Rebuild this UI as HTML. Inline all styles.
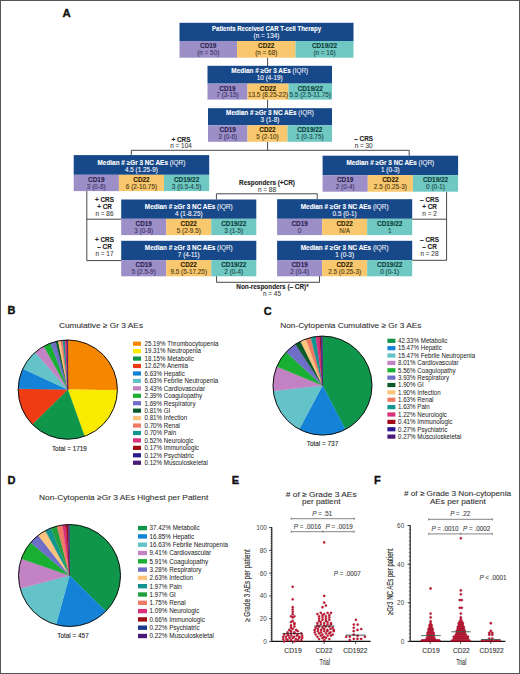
<!DOCTYPE html>
<html><head><meta charset="utf-8"><style>
html,body{margin:0;padding:0;background:#fff;}
body{width:520px;height:674px;overflow:hidden;font-family:"Liberation Sans", sans-serif;}
svg{display:block;}
</style></head><body>
<svg width="520" height="674" viewBox="0 0 520 674" font-family='"Liberation Sans", sans-serif'><rect x="0" y="0" width="520" height="674" fill="#ffffff" /><text x="62.6" y="16.7" font-size="11.4" text-anchor="start" font-weight="bold" fill="#111" stroke="#111" stroke-width="0.35" >A</text><line x1="267.6" y1="57.5" x2="267.6" y2="66" stroke="#333" stroke-width="0.9"/><line x1="267.6" y1="99.5" x2="267.6" y2="108.3" stroke="#333" stroke-width="0.9"/><line x1="267.6" y1="141.7" x2="267.6" y2="150.3" stroke="#333" stroke-width="0.9"/><polyline points="131.3,155.2 131.3,150.3 409.2,150.3 409.2,155.8" fill="none" stroke="#333" stroke-width="0.9"/><polyline points="86.8,191 86.8,260.6 121.3,260.6" fill="none" stroke="#333" stroke-width="0.9"/><line x1="86.8" y1="219.2" x2="121.3" y2="219.2" stroke="#333" stroke-width="0.9"/><polyline points="446.6,191.6 446.6,260.3 412.2,260.3" fill="none" stroke="#333" stroke-width="0.9"/><line x1="446.6" y1="219.2" x2="412.2" y2="219.2" stroke="#333" stroke-width="0.9"/><polyline points="216.4,199.5 216.4,193.8 317.2,193.8 317.2,199.3" fill="none" stroke="#333" stroke-width="0.9"/><polyline points="216.6,276 216.6,282.3 319.5,282.3 319.5,276" fill="none" stroke="#333" stroke-width="0.9"/><rect x="179.5" y="22.8" width="174" height="18.2" fill="#17488a" /><rect x="179.5" y="41" width="57.52" height="16.700000000000003" fill="#9c8fc8" /><rect x="237" y="41" width="58.52" height="16.700000000000003" fill="#f9c86e" /><rect x="295.5" y="41" width="58.0" height="16.700000000000003" fill="#6fc8c2" /><text x="266.5" y="30.7" font-size="6.4" text-anchor="middle" font-weight="normal" fill="#ffffff" stroke="#ffffff" stroke-width="0.1" textLength="109" lengthAdjust="spacingAndGlyphs"><tspan font-weight="bold">Patients Received CAR T-cell Therapy</tspan></text><text x="266.5" y="37.8" font-size="6.4" text-anchor="middle" font-weight="normal" fill="#f4f6fb" stroke="#f4f6fb" stroke-width="0.1" >(n = 134)</text><text x="208.25" y="48.0" font-size="6.4" text-anchor="middle" font-weight="bold" fill="#2a1f4f" stroke="#2a1f4f" stroke-width="0.1" >CD19</text><text x="208.25" y="54.8" font-size="6.4" text-anchor="middle" font-weight="normal" fill="#3d3468" stroke="#3d3468" stroke-width="0.1" >(n = 50)</text><text x="266.25" y="48.0" font-size="6.4" text-anchor="middle" font-weight="bold" fill="#2e2200" stroke="#2e2200" stroke-width="0.1" >CD22</text><text x="266.25" y="54.8" font-size="6.4" text-anchor="middle" font-weight="normal" fill="#4d3a12" stroke="#4d3a12" stroke-width="0.1" >(n = 68)</text><text x="324.5" y="48.0" font-size="6.4" text-anchor="middle" font-weight="bold" fill="#0d3a3a" stroke="#0d3a3a" stroke-width="0.1" >CD19/22</text><text x="324.5" y="54.8" font-size="6.4" text-anchor="middle" font-weight="normal" fill="#1d4848" stroke="#1d4848" stroke-width="0.1" >(n = 16)</text><rect x="207.5" y="65.8" width="124.5" height="17.799999999999997" fill="#17488a" /><rect x="207.5" y="83.6" width="40.02" height="16.0" fill="#9c8fc8" /><rect x="247.5" y="83.6" width="41.02" height="16.0" fill="#f9c86e" /><rect x="288.5" y="83.6" width="43.5" height="16.0" fill="#6fc8c2" /><text x="269.75" y="73.3" font-size="6.4" text-anchor="middle" font-weight="normal" fill="#ffffff" stroke="#ffffff" stroke-width="0.1" ><tspan font-weight="bold">Median # ≥Gr 3 AEs</tspan><tspan fill="#e4e8f2"> (IQR)</tspan></text><text x="269.75" y="80.39999999999999" font-size="6.4" text-anchor="middle" font-weight="normal" fill="#f4f6fb" stroke="#f4f6fb" stroke-width="0.1" >10 (4-19)</text><text x="227.5" y="90.6" font-size="6.4" text-anchor="middle" font-weight="bold" fill="#2a1f4f" stroke="#2a1f4f" stroke-width="0.1" >CD19</text><text x="227.5" y="97.39999999999999" font-size="6.4" text-anchor="middle" font-weight="normal" fill="#3d3468" stroke="#3d3468" stroke-width="0.1" >7 (3-15)</text><text x="268.0" y="90.6" font-size="6.4" text-anchor="middle" font-weight="bold" fill="#2e2200" stroke="#2e2200" stroke-width="0.1" >CD22</text><text x="268.0" y="97.39999999999999" font-size="6.4" text-anchor="middle" font-weight="normal" fill="#4d3a12" stroke="#4d3a12" stroke-width="0.1" >13.5 (8.25-22)</text><text x="310.25" y="90.6" font-size="6.4" text-anchor="middle" font-weight="bold" fill="#0d3a3a" stroke="#0d3a3a" stroke-width="0.1" >CD19/22</text><text x="310.25" y="97.39999999999999" font-size="6.4" text-anchor="middle" font-weight="normal" fill="#1d4848" stroke="#1d4848" stroke-width="0.1" >5.5 (2.5-11.75)</text><rect x="208" y="108.2" width="124" height="17.099999999999994" fill="#17488a" /><rect x="208" y="125.3" width="39.52" height="16.500000000000014" fill="#9c8fc8" /><rect x="247.5" y="125.3" width="40.02" height="16.500000000000014" fill="#f9c86e" /><rect x="287.5" y="125.3" width="44.5" height="16.500000000000014" fill="#6fc8c2" /><text x="270.0" y="115.0" font-size="6.4" text-anchor="middle" font-weight="normal" fill="#ffffff" stroke="#ffffff" stroke-width="0.1" ><tspan font-weight="bold">Median # ≥Gr 3 NC AEs</tspan><tspan fill="#e4e8f2"> (IQR)</tspan></text><text x="270.0" y="122.1" font-size="6.4" text-anchor="middle" font-weight="normal" fill="#f4f6fb" stroke="#f4f6fb" stroke-width="0.1" >3 (1-8)</text><text x="227.75" y="132.3" font-size="6.4" text-anchor="middle" font-weight="bold" fill="#2a1f4f" stroke="#2a1f4f" stroke-width="0.1" >CD19</text><text x="227.75" y="139.1" font-size="6.4" text-anchor="middle" font-weight="normal" fill="#3d3468" stroke="#3d3468" stroke-width="0.1" >3 (0-6)</text><text x="267.5" y="132.3" font-size="6.4" text-anchor="middle" font-weight="bold" fill="#2e2200" stroke="#2e2200" stroke-width="0.1" >CD22</text><text x="267.5" y="139.1" font-size="6.4" text-anchor="middle" font-weight="normal" fill="#4d3a12" stroke="#4d3a12" stroke-width="0.1" >5 (2-10)</text><text x="309.75" y="132.3" font-size="6.4" text-anchor="middle" font-weight="bold" fill="#0d3a3a" stroke="#0d3a3a" stroke-width="0.1" >CD19/22</text><text x="309.75" y="139.1" font-size="6.4" text-anchor="middle" font-weight="normal" fill="#1d4848" stroke="#1d4848" stroke-width="0.1" >1 (0-3.75)</text><rect x="73.7" y="155.1" width="135.5" height="19.700000000000017" fill="#17488a" /><rect x="73.7" y="174.8" width="45.186666666666675" height="16.299999999999983" fill="#9c8fc8" /><rect x="118.86666666666667" y="174.8" width="45.18666666666666" height="16.299999999999983" fill="#f9c86e" /><rect x="164.03333333333333" y="174.8" width="45.16666666666666" height="16.299999999999983" fill="#6fc8c2" /><text x="141.45" y="164.5" font-size="6.4" text-anchor="middle" font-weight="normal" fill="#ffffff" stroke="#ffffff" stroke-width="0.1" ><tspan font-weight="bold">Median # ≥Gr 3 NC AEs</tspan><tspan fill="#e4e8f2"> (IQR)</tspan></text><text x="141.45" y="171.60000000000002" font-size="6.4" text-anchor="middle" font-weight="normal" fill="#f4f6fb" stroke="#f4f6fb" stroke-width="0.1" >4.5 (1.25-9)</text><text x="96.28333333333333" y="181.8" font-size="6.4" text-anchor="middle" font-weight="bold" fill="#2a1f4f" stroke="#2a1f4f" stroke-width="0.1" >CD19</text><text x="96.28333333333333" y="188.60000000000002" font-size="6.4" text-anchor="middle" font-weight="normal" fill="#3d3468" stroke="#3d3468" stroke-width="0.1" >3 (0-8)</text><text x="141.45" y="181.8" font-size="6.4" text-anchor="middle" font-weight="bold" fill="#2e2200" stroke="#2e2200" stroke-width="0.1" >CD22</text><text x="141.45" y="188.60000000000002" font-size="6.4" text-anchor="middle" font-weight="normal" fill="#4d3a12" stroke="#4d3a12" stroke-width="0.1" >6 (2-10.75)</text><text x="186.61666666666667" y="181.8" font-size="6.4" text-anchor="middle" font-weight="bold" fill="#0d3a3a" stroke="#0d3a3a" stroke-width="0.1" >CD19/22</text><text x="186.61666666666667" y="188.60000000000002" font-size="6.4" text-anchor="middle" font-weight="normal" fill="#1d4848" stroke="#1d4848" stroke-width="0.1" >3 (0.5-4.5)</text><rect x="322.6" y="155.7" width="135.5" height="19.5" fill="#17488a" /><rect x="322.6" y="175.2" width="45.18666666666669" height="16.5" fill="#9c8fc8" /><rect x="367.7666666666667" y="175.2" width="45.18666666666663" height="16.5" fill="#f9c86e" /><rect x="412.93333333333334" y="175.2" width="45.166666666666686" height="16.5" fill="#6fc8c2" /><text x="390.35" y="164.89999999999998" font-size="6.4" text-anchor="middle" font-weight="normal" fill="#ffffff" stroke="#ffffff" stroke-width="0.1" ><tspan font-weight="bold">Median # ≥Gr 3 NC AEs</tspan><tspan fill="#e4e8f2"> (IQR)</tspan></text><text x="390.35" y="172.0" font-size="6.4" text-anchor="middle" font-weight="normal" fill="#f4f6fb" stroke="#f4f6fb" stroke-width="0.1" >1 (0-3)</text><text x="345.1833333333334" y="182.2" font-size="6.4" text-anchor="middle" font-weight="bold" fill="#2a1f4f" stroke="#2a1f4f" stroke-width="0.1" >CD19</text><text x="345.1833333333334" y="189.0" font-size="6.4" text-anchor="middle" font-weight="normal" fill="#3d3468" stroke="#3d3468" stroke-width="0.1" >2 (0-4)</text><text x="390.35" y="182.2" font-size="6.4" text-anchor="middle" font-weight="bold" fill="#2e2200" stroke="#2e2200" stroke-width="0.1" >CD22</text><text x="390.35" y="189.0" font-size="6.4" text-anchor="middle" font-weight="normal" fill="#4d3a12" stroke="#4d3a12" stroke-width="0.1" >2.5 (0.25-3)</text><text x="435.51666666666665" y="182.2" font-size="6.4" text-anchor="middle" font-weight="bold" fill="#0d3a3a" stroke="#0d3a3a" stroke-width="0.1" >CD19/22</text><text x="435.51666666666665" y="189.0" font-size="6.4" text-anchor="middle" font-weight="normal" fill="#1d4848" stroke="#1d4848" stroke-width="0.1" >0 (0-1)</text><rect x="121.2" y="199.5" width="135.1" height="19.30000000000001" fill="#17488a" /><rect x="121.2" y="218.8" width="45.05333333333335" height="16.299999999999983" fill="#9c8fc8" /><rect x="166.23333333333335" y="218.8" width="45.053333333333306" height="16.299999999999983" fill="#f9c86e" /><rect x="211.26666666666665" y="218.8" width="45.03333333333336" height="16.299999999999983" fill="#6fc8c2" /><text x="188.75" y="208.5" font-size="6.4" text-anchor="middle" font-weight="normal" fill="#ffffff" stroke="#ffffff" stroke-width="0.1" ><tspan font-weight="bold">Median # ≥Gr 3 NC AEs</tspan><tspan fill="#e4e8f2"> (IQR)</tspan></text><text x="188.75" y="215.60000000000002" font-size="6.4" text-anchor="middle" font-weight="normal" fill="#f4f6fb" stroke="#f4f6fb" stroke-width="0.1" >4 (1-8.25)</text><text x="143.71666666666667" y="225.8" font-size="6.4" text-anchor="middle" font-weight="bold" fill="#2a1f4f" stroke="#2a1f4f" stroke-width="0.1" >CD19</text><text x="143.71666666666667" y="232.60000000000002" font-size="6.4" text-anchor="middle" font-weight="normal" fill="#3d3468" stroke="#3d3468" stroke-width="0.1" >3 (0-8)</text><text x="188.75" y="225.8" font-size="6.4" text-anchor="middle" font-weight="bold" fill="#2e2200" stroke="#2e2200" stroke-width="0.1" >CD22</text><text x="188.75" y="232.60000000000002" font-size="6.4" text-anchor="middle" font-weight="normal" fill="#4d3a12" stroke="#4d3a12" stroke-width="0.1" >5 (2-9.5)</text><text x="233.78333333333333" y="225.8" font-size="6.4" text-anchor="middle" font-weight="bold" fill="#0d3a3a" stroke="#0d3a3a" stroke-width="0.1" >CD19/22</text><text x="233.78333333333333" y="232.60000000000002" font-size="6.4" text-anchor="middle" font-weight="normal" fill="#1d4848" stroke="#1d4848" stroke-width="0.1" >3 (1-5)</text><rect x="277.1" y="199.2" width="135.1" height="19.600000000000023" fill="#17488a" /><rect x="277.1" y="218.8" width="45.053333333333306" height="16.299999999999983" fill="#9c8fc8" /><rect x="322.1333333333333" y="218.8" width="45.05333333333336" height="16.299999999999983" fill="#f9c86e" /><rect x="367.1666666666667" y="218.8" width="45.03333333333336" height="16.299999999999983" fill="#6fc8c2" /><text x="344.65000000000003" y="208.5" font-size="6.4" text-anchor="middle" font-weight="normal" fill="#ffffff" stroke="#ffffff" stroke-width="0.1" ><tspan font-weight="bold">Median # ≥Gr 3 NC AEs</tspan><tspan fill="#e4e8f2"> (IQR)</tspan></text><text x="344.65000000000003" y="215.60000000000002" font-size="6.4" text-anchor="middle" font-weight="normal" fill="#f4f6fb" stroke="#f4f6fb" stroke-width="0.1" >0.5 (0-1)</text><text x="299.6166666666667" y="225.8" font-size="6.4" text-anchor="middle" font-weight="bold" fill="#2a1f4f" stroke="#2a1f4f" stroke-width="0.1" >CD19</text><text x="299.6166666666667" y="232.60000000000002" font-size="6.4" text-anchor="middle" font-weight="normal" fill="#3d3468" stroke="#3d3468" stroke-width="0.1" >0</text><text x="344.65" y="225.8" font-size="6.4" text-anchor="middle" font-weight="bold" fill="#2e2200" stroke="#2e2200" stroke-width="0.1" >CD22</text><text x="344.65" y="232.60000000000002" font-size="6.4" text-anchor="middle" font-weight="normal" fill="#4d3a12" stroke="#4d3a12" stroke-width="0.1" >N/A</text><text x="389.6833333333334" y="225.8" font-size="6.4" text-anchor="middle" font-weight="bold" fill="#0d3a3a" stroke="#0d3a3a" stroke-width="0.1" >CD19/22</text><text x="389.6833333333334" y="232.60000000000002" font-size="6.4" text-anchor="middle" font-weight="normal" fill="#1d4848" stroke="#1d4848" stroke-width="0.1" >1</text><rect x="121.2" y="240.8" width="135.1" height="19.30000000000001" fill="#17488a" /><rect x="121.2" y="260.1" width="45.05333333333335" height="16.19999999999999" fill="#9c8fc8" /><rect x="166.23333333333335" y="260.1" width="45.053333333333306" height="16.19999999999999" fill="#f9c86e" /><rect x="211.26666666666665" y="260.1" width="45.03333333333336" height="16.19999999999999" fill="#6fc8c2" /><text x="188.75" y="249.8" font-size="6.4" text-anchor="middle" font-weight="normal" fill="#ffffff" stroke="#ffffff" stroke-width="0.1" ><tspan font-weight="bold">Median # ≥Gr 3 NC AEs</tspan><tspan fill="#e4e8f2"> (IQR)</tspan></text><text x="188.75" y="256.90000000000003" font-size="6.4" text-anchor="middle" font-weight="normal" fill="#f4f6fb" stroke="#f4f6fb" stroke-width="0.1" >7 (4-11)</text><text x="143.71666666666667" y="267.1" font-size="6.4" text-anchor="middle" font-weight="bold" fill="#2a1f4f" stroke="#2a1f4f" stroke-width="0.1" >CD19</text><text x="143.71666666666667" y="273.90000000000003" font-size="6.4" text-anchor="middle" font-weight="normal" fill="#3d3468" stroke="#3d3468" stroke-width="0.1" >5 (2.5-9)</text><text x="188.75" y="267.1" font-size="6.4" text-anchor="middle" font-weight="bold" fill="#2e2200" stroke="#2e2200" stroke-width="0.1" >CD22</text><text x="188.75" y="273.90000000000003" font-size="6.4" text-anchor="middle" font-weight="normal" fill="#4d3a12" stroke="#4d3a12" stroke-width="0.1" >9.5 (5-17.25)</text><text x="233.78333333333333" y="267.1" font-size="6.4" text-anchor="middle" font-weight="bold" fill="#0d3a3a" stroke="#0d3a3a" stroke-width="0.1" >CD19/22</text><text x="233.78333333333333" y="273.90000000000003" font-size="6.4" text-anchor="middle" font-weight="normal" fill="#1d4848" stroke="#1d4848" stroke-width="0.1" >2 (0-4)</text><rect x="277.1" y="240.8" width="135.1" height="19.30000000000001" fill="#17488a" /><rect x="277.1" y="260.1" width="45.053333333333306" height="16.19999999999999" fill="#9c8fc8" /><rect x="322.1333333333333" y="260.1" width="45.05333333333336" height="16.19999999999999" fill="#f9c86e" /><rect x="367.1666666666667" y="260.1" width="45.03333333333336" height="16.19999999999999" fill="#6fc8c2" /><text x="344.65000000000003" y="249.8" font-size="6.4" text-anchor="middle" font-weight="normal" fill="#ffffff" stroke="#ffffff" stroke-width="0.1" ><tspan font-weight="bold">Median # ≥Gr 3 NC AEs</tspan><tspan fill="#e4e8f2"> (IQR)</tspan></text><text x="344.65000000000003" y="256.90000000000003" font-size="6.4" text-anchor="middle" font-weight="normal" fill="#f4f6fb" stroke="#f4f6fb" stroke-width="0.1" >1 (0-3)</text><text x="299.6166666666667" y="267.1" font-size="6.4" text-anchor="middle" font-weight="bold" fill="#2a1f4f" stroke="#2a1f4f" stroke-width="0.1" >CD19</text><text x="299.6166666666667" y="273.90000000000003" font-size="6.4" text-anchor="middle" font-weight="normal" fill="#3d3468" stroke="#3d3468" stroke-width="0.1" >2 (0-4)</text><text x="344.65" y="267.1" font-size="6.4" text-anchor="middle" font-weight="bold" fill="#2e2200" stroke="#2e2200" stroke-width="0.1" >CD22</text><text x="344.65" y="273.90000000000003" font-size="6.4" text-anchor="middle" font-weight="normal" fill="#4d3a12" stroke="#4d3a12" stroke-width="0.1" >2.5 (0.25-3)</text><text x="389.6833333333334" y="267.1" font-size="6.4" text-anchor="middle" font-weight="bold" fill="#0d3a3a" stroke="#0d3a3a" stroke-width="0.1" >CD19/22</text><text x="389.6833333333334" y="273.90000000000003" font-size="6.4" text-anchor="middle" font-weight="normal" fill="#1d4848" stroke="#1d4848" stroke-width="0.1" >0 (0-1)</text><text x="181" y="141.8" font-size="6.4" text-anchor="middle" font-weight="bold" fill="#222" stroke="#222" stroke-width="0.1" >+ CRS</text><text x="181" y="148.4" font-size="6.4" text-anchor="middle" font-weight="normal" fill="#444" stroke="#444" stroke-width="0.1" >n = 104</text><text x="363.7" y="141.0" font-size="6.4" text-anchor="middle" font-weight="bold" fill="#222" stroke="#222" stroke-width="0.1" >– CRS</text><text x="363.7" y="147.9" font-size="6.4" text-anchor="middle" font-weight="normal" fill="#444" stroke="#444" stroke-width="0.1" >n = 30</text><text x="104.5" y="202.1" font-size="6.4" text-anchor="middle" font-weight="bold" fill="#222" stroke="#222" stroke-width="0.1" >+ CRS</text><text x="104.5" y="209.1" font-size="6.4" text-anchor="middle" font-weight="bold" fill="#222" stroke="#222" stroke-width="0.1" >+ CR</text><text x="104.5" y="216.0" font-size="6.4" text-anchor="middle" font-weight="normal" fill="#444" stroke="#444" stroke-width="0.1" >n = 86</text><text x="104.5" y="242.0" font-size="6.4" text-anchor="middle" font-weight="bold" fill="#222" stroke="#222" stroke-width="0.1" >+ CRS</text><text x="104.5" y="249.2" font-size="6.4" text-anchor="middle" font-weight="bold" fill="#222" stroke="#222" stroke-width="0.1" >– CR</text><text x="104.5" y="256.0" font-size="6.4" text-anchor="middle" font-weight="normal" fill="#444" stroke="#444" stroke-width="0.1" >n = 17</text><text x="429.5" y="202.2" font-size="6.4" text-anchor="middle" font-weight="bold" fill="#222" stroke="#222" stroke-width="0.1" >– CRS</text><text x="429.5" y="209.1" font-size="6.4" text-anchor="middle" font-weight="bold" fill="#222" stroke="#222" stroke-width="0.1" >+ CR</text><text x="429.5" y="216" font-size="6.4" text-anchor="middle" font-weight="normal" fill="#444" stroke="#444" stroke-width="0.1" >n = 2</text><text x="429.5" y="242" font-size="6.4" text-anchor="middle" font-weight="bold" fill="#222" stroke="#222" stroke-width="0.1" >– CRS</text><text x="429.5" y="248.9" font-size="6.4" text-anchor="middle" font-weight="bold" fill="#222" stroke="#222" stroke-width="0.1" >– CR</text><text x="429.5" y="255.8" font-size="6.4" text-anchor="middle" font-weight="normal" fill="#444" stroke="#444" stroke-width="0.1" >n = 28</text><text x="267" y="185.4" font-size="6.4" text-anchor="middle" font-weight="bold" fill="#222" stroke="#222" stroke-width="0.1" >Responders (+CR)</text><text x="267" y="191.8" font-size="6.4" text-anchor="middle" font-weight="normal" fill="#444" stroke="#444" stroke-width="0.1" >n = 88</text><text x="272.5" y="289.3" font-size="6.4" text-anchor="middle" font-weight="bold" fill="#222" stroke="#222" stroke-width="0.1" >Non-responders (– CR)*</text><text x="272" y="295.8" font-size="6.4" text-anchor="middle" font-weight="normal" fill="#444" stroke="#444" stroke-width="0.1" >n = 45</text><text x="7.6" y="314.1" font-size="11.0" text-anchor="start" font-weight="bold" fill="#111" stroke="#111" stroke-width="0.35" >B</text><text x="58.9" y="328.1" font-size="7.6" text-anchor="start" font-weight="normal" fill="#333" stroke="#333" stroke-width="0.1" textLength="84.2" lengthAdjust="spacingAndGlyphs">Cumulative ≥ Gr 3 AEs</text><path d="M67.80,389.60 L67.80,340.00 A49.6,49.6 0 0 1 117.40,390.20 Z" fill="#f58700" stroke="#f58700" stroke-width="0.25" stroke-linejoin="round"/><path d="M67.80,389.60 L117.40,390.20 A49.6,49.6 0 0 1 84.59,436.27 Z" fill="#faeb00" stroke="#faeb00" stroke-width="0.25" stroke-linejoin="round"/><path d="M67.80,389.60 L84.59,436.27 A49.6,49.6 0 0 1 32.38,424.33 Z" fill="#0f964b" stroke="#0f964b" stroke-width="0.25" stroke-linejoin="round"/><path d="M67.80,389.60 L32.38,424.33 A49.6,49.6 0 0 1 18.21,388.74 Z" fill="#f03c14" stroke="#f03c14" stroke-width="0.25" stroke-linejoin="round"/><path d="M67.80,389.60 L18.21,388.74 A49.6,49.6 0 0 1 22.80,368.74 Z" fill="#1482d7" stroke="#1482d7" stroke-width="0.25" stroke-linejoin="round"/><path d="M67.80,389.60 L22.80,368.74 A49.6,49.6 0 0 1 35.09,352.31 Z" fill="#64c3c8" stroke="#64c3c8" stroke-width="0.25" stroke-linejoin="round"/><path d="M67.80,389.60 L35.09,352.31 A49.6,49.6 0 0 1 43.82,346.18 Z" fill="#c382c3" stroke="#c382c3" stroke-width="0.25" stroke-linejoin="round"/><path d="M67.80,389.60 L43.82,346.18 A49.6,49.6 0 0 1 50.59,343.08 Z" fill="#19af32" stroke="#19af32" stroke-width="0.25" stroke-linejoin="round"/><path d="M67.80,389.60 L50.59,343.08 A49.6,49.6 0 0 1 55.61,341.52 Z" fill="#6e6ec8" stroke="#6e6ec8" stroke-width="0.25" stroke-linejoin="round"/><path d="M67.80,389.60 L55.61,341.52 A49.6,49.6 0 0 1 58.08,340.96 Z" fill="#0a5a2a" stroke="#0a5a2a" stroke-width="0.25" stroke-linejoin="round"/><path d="M67.80,389.60 L58.08,340.96 A49.6,49.6 0 0 1 60.56,340.53 Z" fill="#fcc47c" stroke="#fcc47c" stroke-width="0.25" stroke-linejoin="round"/><path d="M67.80,389.60 L60.56,340.53 A49.6,49.6 0 0 1 62.73,340.26 Z" fill="#ee7a64" stroke="#ee7a64" stroke-width="0.25" stroke-linejoin="round"/><path d="M67.80,389.60 L62.73,340.26 A49.6,49.6 0 0 1 64.90,340.08 Z" fill="#129490" stroke="#129490" stroke-width="0.25" stroke-linejoin="round"/><path d="M67.80,389.60 L64.90,340.08 A49.6,49.6 0 0 1 66.52,340.02 Z" fill="#d8307a" stroke="#d8307a" stroke-width="0.25" stroke-linejoin="round"/><path d="M67.80,389.60 L66.52,340.02 A49.6,49.6 0 0 1 67.05,340.01 Z" fill="#a00c14" stroke="#a00c14" stroke-width="0.25" stroke-linejoin="round"/><path d="M67.80,389.60 L67.05,340.01 A49.6,49.6 0 0 1 67.43,340.00 Z" fill="#2a1a90" stroke="#2a1a90" stroke-width="0.25" stroke-linejoin="round"/><path d="M67.80,389.60 L67.43,340.00 A49.6,49.6 0 0 1 67.80,340.00 Z" fill="#4a1a78" stroke="#4a1a78" stroke-width="0.25" stroke-linejoin="round"/><circle cx="67.8" cy="389.6" r="49.6" fill="none" stroke="#111" stroke-width="1.0"/><rect x="133" y="341.59999999999997" width="8" height="4.2" fill="#f58700" /><text x="144.5" y="346.0" font-size="6.696000000000001" text-anchor="start" font-weight="normal" fill="#262626" stroke="#262626" stroke-width="0.04" textLength="73.98" lengthAdjust="spacingAndGlyphs">25.19% Thrombocytopenia</text><rect x="133" y="349.03999999999996" width="8" height="4.2" fill="#faeb00" /><text x="144.5" y="353.44" font-size="6.696000000000001" text-anchor="start" font-weight="normal" fill="#262626" stroke="#262626" stroke-width="0.04" textLength="56.53" lengthAdjust="spacingAndGlyphs">19.31% Neutropenia</text><rect x="133" y="356.47999999999996" width="8" height="4.2" fill="#0f964b" /><text x="144.5" y="360.88" font-size="6.696000000000001" text-anchor="start" font-weight="normal" fill="#262626" stroke="#262626" stroke-width="0.04" textLength="49.28" lengthAdjust="spacingAndGlyphs">18.15% Metabolic</text><rect x="133" y="363.91999999999996" width="8" height="4.2" fill="#f03c14" /><text x="144.5" y="368.32" font-size="6.696000000000001" text-anchor="start" font-weight="normal" fill="#262626" stroke="#262626" stroke-width="0.04" textLength="43.43" lengthAdjust="spacingAndGlyphs">12.62% Anemia</text><rect x="133" y="371.35999999999996" width="8" height="4.2" fill="#1482d7" /><text x="144.5" y="375.76" font-size="6.696000000000001" text-anchor="start" font-weight="normal" fill="#262626" stroke="#262626" stroke-width="0.04" textLength="40.32" lengthAdjust="spacingAndGlyphs">6.63% Hepatic</text><rect x="133" y="378.79999999999995" width="8" height="4.2" fill="#64c3c8" /><text x="144.5" y="383.2" font-size="6.696000000000001" text-anchor="start" font-weight="normal" fill="#262626" stroke="#262626" stroke-width="0.04" textLength="73.75" lengthAdjust="spacingAndGlyphs">6.63% Febrile Neutropenia</text><rect x="133" y="386.23999999999995" width="8" height="4.2" fill="#c382c3" /><text x="144.5" y="390.64" font-size="6.696000000000001" text-anchor="start" font-weight="normal" fill="#262626" stroke="#262626" stroke-width="0.04" textLength="60.65" lengthAdjust="spacingAndGlyphs">3.43% Cardiovascular</text><rect x="133" y="393.67999999999995" width="8" height="4.2" fill="#19af32" /><text x="144.5" y="398.08" font-size="6.696000000000001" text-anchor="start" font-weight="normal" fill="#262626" stroke="#262626" stroke-width="0.04" textLength="57.56" lengthAdjust="spacingAndGlyphs">2.39% Coagulopathy</text><rect x="133" y="401.11999999999995" width="8" height="4.2" fill="#6e6ec8" /><text x="144.5" y="405.52" font-size="6.696000000000001" text-anchor="start" font-weight="normal" fill="#262626" stroke="#262626" stroke-width="0.04" textLength="51.00" lengthAdjust="spacingAndGlyphs">1.69% Respiratory</text><rect x="133" y="408.55999999999995" width="8" height="4.2" fill="#0a5a2a" /><text x="144.5" y="412.96" font-size="6.696000000000001" text-anchor="start" font-weight="normal" fill="#262626" stroke="#262626" stroke-width="0.04" textLength="25.85" lengthAdjust="spacingAndGlyphs">0.81% GI</text><rect x="133" y="416.0" width="8" height="4.2" fill="#fcc47c" /><text x="144.5" y="420.40000000000003" font-size="6.696000000000001" text-anchor="start" font-weight="normal" fill="#262626" stroke="#262626" stroke-width="0.04" textLength="42.74" lengthAdjust="spacingAndGlyphs">0.81% Infection</text><rect x="133" y="423.43999999999994" width="8" height="4.2" fill="#ee7a64" /><text x="144.5" y="427.84" font-size="6.696000000000001" text-anchor="start" font-weight="normal" fill="#262626" stroke="#262626" stroke-width="0.04" textLength="35.50" lengthAdjust="spacingAndGlyphs">0.70% Renal</text><rect x="133" y="430.88" width="8" height="4.2" fill="#129490" /><text x="144.5" y="435.28000000000003" font-size="6.696000000000001" text-anchor="start" font-weight="normal" fill="#262626" stroke="#262626" stroke-width="0.04" textLength="31.71" lengthAdjust="spacingAndGlyphs">0.70% Pain</text><rect x="133" y="438.31999999999994" width="8" height="4.2" fill="#d8307a" /><text x="144.5" y="442.71999999999997" font-size="6.696000000000001" text-anchor="start" font-weight="normal" fill="#262626" stroke="#262626" stroke-width="0.04" textLength="48.94" lengthAdjust="spacingAndGlyphs">0.52% Neurologic</text><rect x="133" y="445.76" width="8" height="4.2" fill="#a00c14" /><text x="144.5" y="450.16" font-size="6.696000000000001" text-anchor="start" font-weight="normal" fill="#262626" stroke="#262626" stroke-width="0.04" textLength="54.45" lengthAdjust="spacingAndGlyphs">0.17% Immunologic</text><rect x="133" y="453.2" width="8" height="4.2" fill="#2a1a90" /><text x="144.5" y="457.6" font-size="6.696000000000001" text-anchor="start" font-weight="normal" fill="#262626" stroke="#262626" stroke-width="0.04" textLength="49.27" lengthAdjust="spacingAndGlyphs">0.12% Psychiatric</text><rect x="133" y="460.64" width="8" height="4.2" fill="#4a1a78" /><text x="144.5" y="465.04" font-size="6.696000000000001" text-anchor="start" font-weight="normal" fill="#262626" stroke="#262626" stroke-width="0.04" textLength="63.41" lengthAdjust="spacingAndGlyphs">0.12% Musculoskeletal</text><text x="69.4" y="450.6" font-size="6.4" text-anchor="middle" font-weight="normal" fill="#222" stroke="#222" stroke-width="0.1" >Total = 1719</text><text x="263.8" y="315.2" font-size="11.0" text-anchor="start" font-weight="bold" fill="#111" stroke="#111" stroke-width="0.35" >C</text><text x="280.2" y="328.0" font-size="7.6" text-anchor="start" font-weight="normal" fill="#333" stroke="#333" stroke-width="0.1" textLength="141.3" lengthAdjust="spacingAndGlyphs">Non-Cytopenia Cumulative ≥ Gr 3 AEs</text><path d="M322.50,385.60 L322.50,336.10 A49.5,49.5 0 0 1 345.44,429.46 Z" fill="#0f964b" stroke="#0f964b" stroke-width="0.25" stroke-linejoin="round"/><path d="M322.50,385.60 L345.44,429.46 A49.5,49.5 0 0 1 299.20,429.27 Z" fill="#1482d7" stroke="#1482d7" stroke-width="0.25" stroke-linejoin="round"/><path d="M322.50,385.60 L299.20,429.27 A49.5,49.5 0 0 1 273.29,390.97 Z" fill="#64c3c8" stroke="#64c3c8" stroke-width="0.25" stroke-linejoin="round"/><path d="M322.50,385.60 L273.29,390.97 A49.5,49.5 0 0 1 276.80,366.57 Z" fill="#c382c3" stroke="#c382c3" stroke-width="0.25" stroke-linejoin="round"/><path d="M322.50,385.60 L276.80,366.57 A49.5,49.5 0 0 1 286.08,352.08 Z" fill="#19af32" stroke="#19af32" stroke-width="0.25" stroke-linejoin="round"/><path d="M322.50,385.60 L286.08,352.08 A49.5,49.5 0 0 1 295.38,344.19 Z" fill="#6e6ec8" stroke="#6e6ec8" stroke-width="0.25" stroke-linejoin="round"/><path d="M322.50,385.60 L295.38,344.19 A49.5,49.5 0 0 1 300.50,341.26 Z" fill="#0a5a2a" stroke="#0a5a2a" stroke-width="0.25" stroke-linejoin="round"/><path d="M322.50,385.60 L300.50,341.26 A49.5,49.5 0 0 1 305.94,338.95 Z" fill="#fcc47c" stroke="#fcc47c" stroke-width="0.25" stroke-linejoin="round"/><path d="M322.50,385.60 L305.94,338.95 A49.5,49.5 0 0 1 310.79,337.50 Z" fill="#ee7a64" stroke="#ee7a64" stroke-width="0.25" stroke-linejoin="round"/><path d="M322.50,385.60 L310.79,337.50 A49.5,49.5 0 0 1 315.77,336.56 Z" fill="#129490" stroke="#129490" stroke-width="0.25" stroke-linejoin="round"/><path d="M322.50,385.60 L315.77,336.56 A49.5,49.5 0 0 1 319.55,336.19 Z" fill="#d8307a" stroke="#d8307a" stroke-width="0.25" stroke-linejoin="round"/><path d="M322.50,385.60 L319.55,336.19 A49.5,49.5 0 0 1 320.82,336.13 Z" fill="#a00c14" stroke="#a00c14" stroke-width="0.25" stroke-linejoin="round"/><path d="M322.50,385.60 L320.82,336.13 A49.5,49.5 0 0 1 321.66,336.11 Z" fill="#2a1a90" stroke="#2a1a90" stroke-width="0.25" stroke-linejoin="round"/><path d="M322.50,385.60 L321.66,336.11 A49.5,49.5 0 0 1 322.50,336.10 Z" fill="#4a1a78" stroke="#4a1a78" stroke-width="0.25" stroke-linejoin="round"/><circle cx="322.5" cy="385.6" r="49.5" fill="none" stroke="#111" stroke-width="1.0"/><rect x="387.4" y="338.7" width="8" height="4.2" fill="#0f964b" /><text x="398" y="343.1" font-size="6.696000000000001" text-anchor="start" font-weight="normal" fill="#262626" stroke="#262626" stroke-width="0.04" textLength="49.28" lengthAdjust="spacingAndGlyphs">42.33% Metabolic</text><rect x="387.4" y="346.07" width="8" height="4.2" fill="#1482d7" /><text x="398" y="350.47" font-size="6.696000000000001" text-anchor="start" font-weight="normal" fill="#262626" stroke="#262626" stroke-width="0.04" textLength="43.77" lengthAdjust="spacingAndGlyphs">15.47% Hepatic</text><rect x="387.4" y="353.44" width="8" height="4.2" fill="#64c3c8" /><text x="398" y="357.84000000000003" font-size="6.696000000000001" text-anchor="start" font-weight="normal" fill="#262626" stroke="#262626" stroke-width="0.04" textLength="77.20" lengthAdjust="spacingAndGlyphs">15.47% Febrile Neutropenia</text><rect x="387.4" y="360.81" width="8" height="4.2" fill="#c382c3" /><text x="398" y="365.21000000000004" font-size="6.696000000000001" text-anchor="start" font-weight="normal" fill="#262626" stroke="#262626" stroke-width="0.04" textLength="60.65" lengthAdjust="spacingAndGlyphs">8.01% Cardiovascular</text><rect x="387.4" y="368.18" width="8" height="4.2" fill="#19af32" /><text x="398" y="372.58000000000004" font-size="6.696000000000001" text-anchor="start" font-weight="normal" fill="#262626" stroke="#262626" stroke-width="0.04" textLength="57.56" lengthAdjust="spacingAndGlyphs">5.56% Coagulopathy</text><rect x="387.4" y="375.55" width="8" height="4.2" fill="#6e6ec8" /><text x="398" y="379.95000000000005" font-size="6.696000000000001" text-anchor="start" font-weight="normal" fill="#262626" stroke="#262626" stroke-width="0.04" textLength="51.00" lengthAdjust="spacingAndGlyphs">3.93% Respiratory</text><rect x="387.4" y="382.91999999999996" width="8" height="4.2" fill="#0a5a2a" /><text x="398" y="387.32" font-size="6.696000000000001" text-anchor="start" font-weight="normal" fill="#262626" stroke="#262626" stroke-width="0.04" textLength="25.85" lengthAdjust="spacingAndGlyphs">1.90% GI</text><rect x="387.4" y="390.28999999999996" width="8" height="4.2" fill="#fcc47c" /><text x="398" y="394.69" font-size="6.696000000000001" text-anchor="start" font-weight="normal" fill="#262626" stroke="#262626" stroke-width="0.04" textLength="42.74" lengthAdjust="spacingAndGlyphs">1.90% Infection</text><rect x="387.4" y="397.65999999999997" width="8" height="4.2" fill="#ee7a64" /><text x="398" y="402.06" font-size="6.696000000000001" text-anchor="start" font-weight="normal" fill="#262626" stroke="#262626" stroke-width="0.04" textLength="35.50" lengthAdjust="spacingAndGlyphs">1.63% Renal</text><rect x="387.4" y="405.03" width="8" height="4.2" fill="#129490" /><text x="398" y="409.43" font-size="6.696000000000001" text-anchor="start" font-weight="normal" fill="#262626" stroke="#262626" stroke-width="0.04" textLength="31.71" lengthAdjust="spacingAndGlyphs">1.63% Pain</text><rect x="387.4" y="412.4" width="8" height="4.2" fill="#d8307a" /><text x="398" y="416.8" font-size="6.696000000000001" text-anchor="start" font-weight="normal" fill="#262626" stroke="#262626" stroke-width="0.04" textLength="48.94" lengthAdjust="spacingAndGlyphs">1.22% Neurologic</text><rect x="387.4" y="419.77" width="8" height="4.2" fill="#a00c14" /><text x="398" y="424.17" font-size="6.696000000000001" text-anchor="start" font-weight="normal" fill="#262626" stroke="#262626" stroke-width="0.04" textLength="54.45" lengthAdjust="spacingAndGlyphs">0.41% Immunologic</text><rect x="387.4" y="427.14" width="8" height="4.2" fill="#2a1a90" /><text x="398" y="431.54" font-size="6.696000000000001" text-anchor="start" font-weight="normal" fill="#262626" stroke="#262626" stroke-width="0.04" textLength="49.27" lengthAdjust="spacingAndGlyphs">0.27% Psychiatric</text><rect x="387.4" y="434.51" width="8" height="4.2" fill="#4a1a78" /><text x="398" y="438.91" font-size="6.696000000000001" text-anchor="start" font-weight="normal" fill="#262626" stroke="#262626" stroke-width="0.04" textLength="63.41" lengthAdjust="spacingAndGlyphs">0.27% Musculoskeletal</text><text x="322.5" y="446.1" font-size="6.4" text-anchor="middle" font-weight="normal" fill="#222" stroke="#222" stroke-width="0.1" >Total = 737</text><text x="7.6" y="484" font-size="11.0" text-anchor="start" font-weight="bold" fill="#111" stroke="#111" stroke-width="0.35" >D</text><text x="39.1" y="500.3" font-size="7.6" text-anchor="start" font-weight="normal" fill="#333" stroke="#333" stroke-width="0.1" textLength="169.2" lengthAdjust="spacingAndGlyphs">Non-Cytopenia ≥Gr 3 AEs Highest per Patient</text><path d="M69.50,575.50 L69.50,524.50 A51,51 0 0 1 105.75,611.37 Z" fill="#0f964b" stroke="#0f964b" stroke-width="0.25" stroke-linejoin="round"/><path d="M69.50,575.50 L105.75,611.37 A51,51 0 0 1 56.00,624.68 Z" fill="#1482d7" stroke="#1482d7" stroke-width="0.25" stroke-linejoin="round"/><path d="M69.50,575.50 L56.00,624.68 A51,51 0 0 1 20.19,588.52 Z" fill="#64c3c8" stroke="#64c3c8" stroke-width="0.25" stroke-linejoin="round"/><path d="M69.50,575.50 L20.19,588.52 A51,51 0 0 1 21.30,558.82 Z" fill="#c382c3" stroke="#c382c3" stroke-width="0.25" stroke-linejoin="round"/><path d="M69.50,575.50 L21.30,558.82 A51,51 0 0 1 30.64,542.47 Z" fill="#19af32" stroke="#19af32" stroke-width="0.25" stroke-linejoin="round"/><path d="M69.50,575.50 L30.64,542.47 A51,51 0 0 1 38.22,535.22 Z" fill="#6e6ec8" stroke="#6e6ec8" stroke-width="0.25" stroke-linejoin="round"/><path d="M69.50,575.50 L38.22,535.22 A51,51 0 0 1 45.27,530.62 Z" fill="#fcc47c" stroke="#fcc47c" stroke-width="0.25" stroke-linejoin="round"/><path d="M69.50,575.50 L45.27,530.62 A51,51 0 0 1 51.00,527.98 Z" fill="#129490" stroke="#129490" stroke-width="0.25" stroke-linejoin="round"/><path d="M69.50,575.50 L51.00,527.98 A51,51 0 0 1 57.00,526.05 Z" fill="#22a03e" stroke="#22a03e" stroke-width="0.25" stroke-linejoin="round"/><path d="M69.50,575.50 L57.00,526.05 A51,51 0 0 1 62.51,524.98 Z" fill="#ee7a64" stroke="#ee7a64" stroke-width="0.25" stroke-linejoin="round"/><path d="M69.50,575.50 L62.51,524.98 A51,51 0 0 1 65.98,524.62 Z" fill="#d8307a" stroke="#d8307a" stroke-width="0.25" stroke-linejoin="round"/><path d="M69.50,575.50 L65.98,524.62 A51,51 0 0 1 68.09,524.52 Z" fill="#a00c14" stroke="#a00c14" stroke-width="0.25" stroke-linejoin="round"/><path d="M69.50,575.50 L68.09,524.52 A51,51 0 0 1 68.80,524.50 Z" fill="#1c3a8c" stroke="#1c3a8c" stroke-width="0.25" stroke-linejoin="round"/><path d="M69.50,575.50 L68.80,524.50 A51,51 0 0 1 69.50,524.50 Z" fill="#4a1a78" stroke="#4a1a78" stroke-width="0.25" stroke-linejoin="round"/><circle cx="69.5" cy="575.5" r="51" fill="none" stroke="#111" stroke-width="1.0"/><rect x="138" y="525.9" width="9" height="4.4" fill="#0f964b" /><text x="149.6" y="530.4" font-size="6.804" text-anchor="start" font-weight="normal" fill="#262626" stroke="#262626" stroke-width="0.04" textLength="50.08" lengthAdjust="spacingAndGlyphs">37.42% Metabolic</text><rect x="138" y="534.1999999999999" width="9" height="4.4" fill="#1482d7" /><text x="149.6" y="538.6999999999999" font-size="6.804" text-anchor="start" font-weight="normal" fill="#262626" stroke="#262626" stroke-width="0.04" textLength="44.48" lengthAdjust="spacingAndGlyphs">16.85% Hepatic</text><rect x="138" y="542.5" width="9" height="4.4" fill="#64c3c8" /><text x="149.6" y="547.0" font-size="6.804" text-anchor="start" font-weight="normal" fill="#262626" stroke="#262626" stroke-width="0.04" textLength="78.44" lengthAdjust="spacingAndGlyphs">16.63% Febrile Neutropenia</text><rect x="138" y="550.8" width="9" height="4.4" fill="#c382c3" /><text x="149.6" y="555.3" font-size="6.804" text-anchor="start" font-weight="normal" fill="#262626" stroke="#262626" stroke-width="0.04" textLength="61.63" lengthAdjust="spacingAndGlyphs">9.41% Cardiovascular</text><rect x="138" y="559.1" width="9" height="4.4" fill="#19af32" /><text x="149.6" y="563.6" font-size="6.804" text-anchor="start" font-weight="normal" fill="#262626" stroke="#262626" stroke-width="0.04" textLength="58.49" lengthAdjust="spacingAndGlyphs">5.91% Coagulopathy</text><rect x="138" y="567.4" width="9" height="4.4" fill="#6e6ec8" /><text x="149.6" y="571.9" font-size="6.804" text-anchor="start" font-weight="normal" fill="#262626" stroke="#262626" stroke-width="0.04" textLength="51.82" lengthAdjust="spacingAndGlyphs">3.28% Respiratory</text><rect x="138" y="575.6999999999999" width="9" height="4.4" fill="#fcc47c" /><text x="149.6" y="580.1999999999999" font-size="6.804" text-anchor="start" font-weight="normal" fill="#262626" stroke="#262626" stroke-width="0.04" textLength="43.43" lengthAdjust="spacingAndGlyphs">2.63% Infection</text><rect x="138" y="584.0" width="9" height="4.4" fill="#129490" /><text x="149.6" y="588.5" font-size="6.804" text-anchor="start" font-weight="normal" fill="#262626" stroke="#262626" stroke-width="0.04" textLength="32.22" lengthAdjust="spacingAndGlyphs">1.97% Pain</text><rect x="138" y="592.3" width="9" height="4.4" fill="#22a03e" /><text x="149.6" y="596.8" font-size="6.804" text-anchor="start" font-weight="normal" fill="#262626" stroke="#262626" stroke-width="0.04" textLength="26.26" lengthAdjust="spacingAndGlyphs">1.97% GI</text><rect x="138" y="600.6" width="9" height="4.4" fill="#ee7a64" /><text x="149.6" y="605.1" font-size="6.804" text-anchor="start" font-weight="normal" fill="#262626" stroke="#262626" stroke-width="0.04" textLength="36.07" lengthAdjust="spacingAndGlyphs">1.75% Renal</text><rect x="138" y="608.9" width="9" height="4.4" fill="#d8307a" /><text x="149.6" y="613.4" font-size="6.804" text-anchor="start" font-weight="normal" fill="#262626" stroke="#262626" stroke-width="0.04" textLength="49.73" lengthAdjust="spacingAndGlyphs">1.09% Neurologic</text><rect x="138" y="617.2" width="9" height="4.4" fill="#a00c14" /><text x="149.6" y="621.7" font-size="6.804" text-anchor="start" font-weight="normal" fill="#262626" stroke="#262626" stroke-width="0.04" textLength="55.32" lengthAdjust="spacingAndGlyphs">0.66% Immunologic</text><rect x="138" y="625.5" width="9" height="4.4" fill="#1c3a8c" /><text x="149.6" y="630.0" font-size="6.804" text-anchor="start" font-weight="normal" fill="#262626" stroke="#262626" stroke-width="0.04" textLength="50.07" lengthAdjust="spacingAndGlyphs">0.22% Psychiatric</text><rect x="138" y="633.8" width="9" height="4.4" fill="#4a1a78" /><text x="149.6" y="638.3" font-size="6.804" text-anchor="start" font-weight="normal" fill="#262626" stroke="#262626" stroke-width="0.04" textLength="64.43" lengthAdjust="spacingAndGlyphs">0.22% Musculoskeletal</text><text x="73" y="638.4" font-size="6.4" text-anchor="middle" font-weight="normal" fill="#222" stroke="#222" stroke-width="0.1" >Total = 457</text><text x="231.7" y="483.6" font-size="11.0" text-anchor="start" font-weight="bold" fill="#111" stroke="#111" stroke-width="0.35" >E</text><text x="321.2" y="496.6" font-size="7.3" text-anchor="middle" font-weight="normal" fill="#333" stroke="#333" stroke-width="0.1" textLength="71" lengthAdjust="spacingAndGlyphs"># of ≥ Grade 3 AEs</text><text x="321.2" y="503.6" font-size="7.3" text-anchor="middle" font-weight="normal" fill="#333" stroke="#333" stroke-width="0.1" textLength="38.5" lengthAdjust="spacingAndGlyphs">per patient</text><line x1="271.8" y1="527.3000000000001" x2="271.8" y2="641.4" stroke="#111" stroke-width="1.1"/><line x1="269.2" y1="641.4" x2="271.8" y2="641.4" stroke="#111" stroke-width="0.9"/><text x="266.8" y="643.9" font-size="6.4" text-anchor="end" font-weight="normal" fill="#4a4a4a" stroke="#4a4a4a" stroke-width="0.04" >0</text><line x1="270.5" y1="639.124" x2="271.8" y2="639.124" stroke="#111" stroke-width="0.6"/><line x1="270.5" y1="636.848" x2="271.8" y2="636.848" stroke="#111" stroke-width="0.6"/><line x1="270.5" y1="634.572" x2="271.8" y2="634.572" stroke="#111" stroke-width="0.6"/><line x1="270.5" y1="632.2959999999999" x2="271.8" y2="632.2959999999999" stroke="#111" stroke-width="0.6"/><line x1="270.5" y1="630.02" x2="271.8" y2="630.02" stroke="#111" stroke-width="0.6"/><line x1="270.5" y1="627.744" x2="271.8" y2="627.744" stroke="#111" stroke-width="0.6"/><line x1="270.5" y1="625.468" x2="271.8" y2="625.468" stroke="#111" stroke-width="0.6"/><line x1="270.5" y1="623.192" x2="271.8" y2="623.192" stroke="#111" stroke-width="0.6"/><line x1="270.5" y1="620.9159999999999" x2="271.8" y2="620.9159999999999" stroke="#111" stroke-width="0.6"/><line x1="269.2" y1="618.64" x2="271.8" y2="618.64" stroke="#111" stroke-width="0.9"/><text x="266.8" y="621.14" font-size="6.4" text-anchor="end" font-weight="normal" fill="#4a4a4a" stroke="#4a4a4a" stroke-width="0.04" >20</text><line x1="270.5" y1="616.364" x2="271.8" y2="616.364" stroke="#111" stroke-width="0.6"/><line x1="270.5" y1="614.088" x2="271.8" y2="614.088" stroke="#111" stroke-width="0.6"/><line x1="270.5" y1="611.812" x2="271.8" y2="611.812" stroke="#111" stroke-width="0.6"/><line x1="270.5" y1="609.536" x2="271.8" y2="609.536" stroke="#111" stroke-width="0.6"/><line x1="270.5" y1="607.26" x2="271.8" y2="607.26" stroke="#111" stroke-width="0.6"/><line x1="270.5" y1="604.984" x2="271.8" y2="604.984" stroke="#111" stroke-width="0.6"/><line x1="270.5" y1="602.708" x2="271.8" y2="602.708" stroke="#111" stroke-width="0.6"/><line x1="270.5" y1="600.432" x2="271.8" y2="600.432" stroke="#111" stroke-width="0.6"/><line x1="270.5" y1="598.156" x2="271.8" y2="598.156" stroke="#111" stroke-width="0.6"/><line x1="269.2" y1="595.88" x2="271.8" y2="595.88" stroke="#111" stroke-width="0.9"/><text x="266.8" y="598.38" font-size="6.4" text-anchor="end" font-weight="normal" fill="#4a4a4a" stroke="#4a4a4a" stroke-width="0.04" >40</text><line x1="270.5" y1="593.604" x2="271.8" y2="593.604" stroke="#111" stroke-width="0.6"/><line x1="270.5" y1="591.328" x2="271.8" y2="591.328" stroke="#111" stroke-width="0.6"/><line x1="270.5" y1="589.052" x2="271.8" y2="589.052" stroke="#111" stroke-width="0.6"/><line x1="270.5" y1="586.776" x2="271.8" y2="586.776" stroke="#111" stroke-width="0.6"/><line x1="270.5" y1="584.5" x2="271.8" y2="584.5" stroke="#111" stroke-width="0.6"/><line x1="270.5" y1="582.224" x2="271.8" y2="582.224" stroke="#111" stroke-width="0.6"/><line x1="270.5" y1="579.948" x2="271.8" y2="579.948" stroke="#111" stroke-width="0.6"/><line x1="270.5" y1="577.672" x2="271.8" y2="577.672" stroke="#111" stroke-width="0.6"/><line x1="270.5" y1="575.396" x2="271.8" y2="575.396" stroke="#111" stroke-width="0.6"/><line x1="269.2" y1="573.12" x2="271.8" y2="573.12" stroke="#111" stroke-width="0.9"/><text x="266.8" y="575.62" font-size="6.4" text-anchor="end" font-weight="normal" fill="#4a4a4a" stroke="#4a4a4a" stroke-width="0.04" >60</text><line x1="270.5" y1="570.844" x2="271.8" y2="570.844" stroke="#111" stroke-width="0.6"/><line x1="270.5" y1="568.568" x2="271.8" y2="568.568" stroke="#111" stroke-width="0.6"/><line x1="270.5" y1="566.292" x2="271.8" y2="566.292" stroke="#111" stroke-width="0.6"/><line x1="270.5" y1="564.0160000000001" x2="271.8" y2="564.0160000000001" stroke="#111" stroke-width="0.6"/><line x1="270.5" y1="561.74" x2="271.8" y2="561.74" stroke="#111" stroke-width="0.6"/><line x1="270.5" y1="559.464" x2="271.8" y2="559.464" stroke="#111" stroke-width="0.6"/><line x1="270.5" y1="557.188" x2="271.8" y2="557.188" stroke="#111" stroke-width="0.6"/><line x1="270.5" y1="554.912" x2="271.8" y2="554.912" stroke="#111" stroke-width="0.6"/><line x1="270.5" y1="552.636" x2="271.8" y2="552.636" stroke="#111" stroke-width="0.6"/><line x1="269.2" y1="550.36" x2="271.8" y2="550.36" stroke="#111" stroke-width="0.9"/><text x="266.8" y="552.86" font-size="6.4" text-anchor="end" font-weight="normal" fill="#4a4a4a" stroke="#4a4a4a" stroke-width="0.04" >80</text><line x1="270.5" y1="548.0840000000001" x2="271.8" y2="548.0840000000001" stroke="#111" stroke-width="0.6"/><line x1="270.5" y1="545.808" x2="271.8" y2="545.808" stroke="#111" stroke-width="0.6"/><line x1="270.5" y1="543.532" x2="271.8" y2="543.532" stroke="#111" stroke-width="0.6"/><line x1="270.5" y1="541.2560000000001" x2="271.8" y2="541.2560000000001" stroke="#111" stroke-width="0.6"/><line x1="270.5" y1="538.98" x2="271.8" y2="538.98" stroke="#111" stroke-width="0.6"/><line x1="270.5" y1="536.7040000000001" x2="271.8" y2="536.7040000000001" stroke="#111" stroke-width="0.6"/><line x1="270.5" y1="534.428" x2="271.8" y2="534.428" stroke="#111" stroke-width="0.6"/><line x1="270.5" y1="532.152" x2="271.8" y2="532.152" stroke="#111" stroke-width="0.6"/><line x1="270.5" y1="529.876" x2="271.8" y2="529.876" stroke="#111" stroke-width="0.6"/><line x1="269.2" y1="527.6" x2="271.8" y2="527.6" stroke="#111" stroke-width="0.9"/><text x="266.8" y="530.1" font-size="6.4" text-anchor="end" font-weight="normal" fill="#4a4a4a" stroke="#4a4a4a" stroke-width="0.04" >100</text><line x1="271.8" y1="641.4" x2="370.6" y2="641.4" stroke="#111" stroke-width="1.1"/><line x1="292.7" y1="641.4" x2="292.7" y2="643.8" stroke="#111" stroke-width="0.8"/><line x1="324.2" y1="641.4" x2="324.2" y2="643.8" stroke="#111" stroke-width="0.8"/><line x1="355.6" y1="641.4" x2="355.6" y2="643.8" stroke="#111" stroke-width="0.8"/><text x="293.0" y="653.2" font-size="6.4" text-anchor="middle" font-weight="normal" fill="#333" stroke="#333" stroke-width="0.1" textLength="17.3" lengthAdjust="spacingAndGlyphs">CD19</text><text x="323.9" y="653.2" font-size="6.4" text-anchor="middle" font-weight="normal" fill="#333" stroke="#333" stroke-width="0.1" textLength="16.8" lengthAdjust="spacingAndGlyphs">CD22</text><text x="355.3" y="653.2" font-size="6.4" text-anchor="middle" font-weight="normal" fill="#333" stroke="#333" stroke-width="0.1" textLength="24.2" lengthAdjust="spacingAndGlyphs">CD1922</text><text x="324.7" y="664.6" font-size="8.2" text-anchor="middle" font-weight="normal" fill="#333" stroke="#333" stroke-width="0.1" textLength="10.3" lengthAdjust="spacingAndGlyphs">Trial</text><text x="0" y="0" font-size="8.2" fill="#2a2a2a" stroke="#2a2a2a" stroke-width="0.12" text-anchor="middle" transform="translate(249.9,585.6) rotate(-90)" textLength="72.5" lengthAdjust="spacingAndGlyphs">≥ Grade 3 AEs per patient</text><text x="322.3" y="515.7" font-size="6.3" text-anchor="middle" font-weight="normal" fill="#444" stroke="#444" stroke-width="0.1" ><tspan font-style="italic">P</tspan> = .51</text><line x1="291.2" y1="518.7" x2="354.2" y2="518.7" stroke="#666" stroke-width="0.8"/><line x1="291.2" y1="517.5" x2="291.2" y2="519.9000000000001" stroke="#666" stroke-width="0.7"/><line x1="354.2" y1="517.5" x2="354.2" y2="519.9000000000001" stroke="#666" stroke-width="0.7"/><text x="307.4" y="528.7" font-size="6.3" text-anchor="middle" font-weight="normal" fill="#444" stroke="#444" stroke-width="0.1" ><tspan font-style="italic">P</tspan> = .0016</text><text x="339.1" y="528.7" font-size="6.3" text-anchor="middle" font-weight="normal" fill="#444" stroke="#444" stroke-width="0.1" ><tspan font-style="italic">P</tspan> = .0019</text><line x1="291.2" y1="531.7" x2="354.2" y2="531.7" stroke="#666" stroke-width="0.8"/><line x1="291.2" y1="530.5" x2="291.2" y2="532.9000000000001" stroke="#666" stroke-width="0.7"/><line x1="322.8" y1="530.5" x2="322.8" y2="532.9000000000001" stroke="#666" stroke-width="0.7"/><line x1="354.2" y1="530.5" x2="354.2" y2="532.9000000000001" stroke="#666" stroke-width="0.7"/><text x="347.3" y="576.4" font-size="6.3" text-anchor="middle" font-weight="normal" fill="#444" stroke="#444" stroke-width="0.1" ><tspan font-style="italic">P</tspan> = .0007</text><circle cx="284.20" cy="641.40" r="1.15" fill="#d01232" stroke="#7a0a1c" stroke-width="0.28"/><circle cx="287.60" cy="640.26" r="1.15" fill="#d01232" stroke="#7a0a1c" stroke-width="0.28"/><circle cx="291.00" cy="640.26" r="1.15" fill="#d01232" stroke="#7a0a1c" stroke-width="0.28"/><circle cx="294.40" cy="641.40" r="1.15" fill="#d01232" stroke="#7a0a1c" stroke-width="0.28"/><circle cx="297.80" cy="640.26" r="1.15" fill="#d01232" stroke="#7a0a1c" stroke-width="0.28"/><circle cx="301.20" cy="640.26" r="1.15" fill="#d01232" stroke="#7a0a1c" stroke-width="0.28"/><circle cx="283.20" cy="639.12" r="1.15" fill="#d01232" stroke="#7a0a1c" stroke-width="0.28"/><circle cx="286.37" cy="639.12" r="1.15" fill="#d01232" stroke="#7a0a1c" stroke-width="0.28"/><circle cx="289.53" cy="637.99" r="1.15" fill="#d01232" stroke="#7a0a1c" stroke-width="0.28"/><circle cx="292.70" cy="637.99" r="1.15" fill="#d01232" stroke="#7a0a1c" stroke-width="0.28"/><circle cx="295.87" cy="639.12" r="1.15" fill="#d01232" stroke="#7a0a1c" stroke-width="0.28"/><circle cx="299.03" cy="637.99" r="1.15" fill="#d01232" stroke="#7a0a1c" stroke-width="0.28"/><circle cx="302.20" cy="637.99" r="1.15" fill="#d01232" stroke="#7a0a1c" stroke-width="0.28"/><circle cx="283.20" cy="636.85" r="1.15" fill="#d01232" stroke="#7a0a1c" stroke-width="0.28"/><circle cx="285.91" cy="636.85" r="1.15" fill="#d01232" stroke="#7a0a1c" stroke-width="0.28"/><circle cx="288.63" cy="635.71" r="1.15" fill="#d01232" stroke="#7a0a1c" stroke-width="0.28"/><circle cx="291.34" cy="635.71" r="1.15" fill="#d01232" stroke="#7a0a1c" stroke-width="0.28"/><circle cx="294.06" cy="636.85" r="1.15" fill="#d01232" stroke="#7a0a1c" stroke-width="0.28"/><circle cx="296.77" cy="635.71" r="1.15" fill="#d01232" stroke="#7a0a1c" stroke-width="0.28"/><circle cx="299.49" cy="636.85" r="1.15" fill="#d01232" stroke="#7a0a1c" stroke-width="0.28"/><circle cx="302.20" cy="635.71" r="1.15" fill="#d01232" stroke="#7a0a1c" stroke-width="0.28"/><circle cx="284.20" cy="634.57" r="1.15" fill="#d01232" stroke="#7a0a1c" stroke-width="0.28"/><circle cx="287.60" cy="634.57" r="1.15" fill="#d01232" stroke="#7a0a1c" stroke-width="0.28"/><circle cx="291.00" cy="633.43" r="1.15" fill="#d01232" stroke="#7a0a1c" stroke-width="0.28"/><circle cx="294.40" cy="633.43" r="1.15" fill="#d01232" stroke="#7a0a1c" stroke-width="0.28"/><circle cx="297.80" cy="634.57" r="1.15" fill="#d01232" stroke="#7a0a1c" stroke-width="0.28"/><circle cx="301.20" cy="633.43" r="1.15" fill="#d01232" stroke="#7a0a1c" stroke-width="0.28"/><circle cx="287.60" cy="632.30" r="1.15" fill="#d01232" stroke="#7a0a1c" stroke-width="0.28"/><circle cx="291.00" cy="631.16" r="1.15" fill="#d01232" stroke="#7a0a1c" stroke-width="0.28"/><circle cx="294.40" cy="632.30" r="1.15" fill="#d01232" stroke="#7a0a1c" stroke-width="0.28"/><circle cx="297.80" cy="631.16" r="1.15" fill="#d01232" stroke="#7a0a1c" stroke-width="0.28"/><circle cx="289.30" cy="630.02" r="1.15" fill="#d01232" stroke="#7a0a1c" stroke-width="0.28"/><circle cx="292.70" cy="628.88" r="1.15" fill="#d01232" stroke="#7a0a1c" stroke-width="0.28"/><circle cx="296.10" cy="630.02" r="1.15" fill="#d01232" stroke="#7a0a1c" stroke-width="0.28"/><circle cx="291.00" cy="627.74" r="1.15" fill="#d01232" stroke="#7a0a1c" stroke-width="0.28"/><circle cx="294.40" cy="626.61" r="1.15" fill="#d01232" stroke="#7a0a1c" stroke-width="0.28"/><circle cx="291.00" cy="625.47" r="1.15" fill="#d01232" stroke="#7a0a1c" stroke-width="0.28"/><circle cx="294.40" cy="624.33" r="1.15" fill="#d01232" stroke="#7a0a1c" stroke-width="0.28"/><circle cx="291.00" cy="622.05" r="1.15" fill="#d01232" stroke="#7a0a1c" stroke-width="0.28"/><circle cx="294.40" cy="623.19" r="1.15" fill="#d01232" stroke="#7a0a1c" stroke-width="0.28"/><circle cx="292.70" cy="620.92" r="1.15" fill="#d01232" stroke="#7a0a1c" stroke-width="0.28"/><circle cx="292.70" cy="617.50" r="1.15" fill="#d01232" stroke="#7a0a1c" stroke-width="0.28"/><circle cx="291.00" cy="616.36" r="1.15" fill="#d01232" stroke="#7a0a1c" stroke-width="0.28"/><circle cx="294.40" cy="616.36" r="1.15" fill="#d01232" stroke="#7a0a1c" stroke-width="0.28"/><circle cx="292.70" cy="614.09" r="1.15" fill="#d01232" stroke="#7a0a1c" stroke-width="0.28"/><circle cx="292.70" cy="611.81" r="1.15" fill="#d01232" stroke="#7a0a1c" stroke-width="0.28"/><circle cx="292.70" cy="609.54" r="1.15" fill="#d01232" stroke="#7a0a1c" stroke-width="0.28"/><circle cx="292.70" cy="607.26" r="1.15" fill="#d01232" stroke="#7a0a1c" stroke-width="0.28"/><circle cx="292.70" cy="599.29" r="1.15" fill="#d01232" stroke="#7a0a1c" stroke-width="0.28"/><circle cx="292.70" cy="586.78" r="1.15" fill="#d01232" stroke="#7a0a1c" stroke-width="0.28"/><circle cx="324.20" cy="640.26" r="1.15" fill="#d01232" stroke="#7a0a1c" stroke-width="0.28"/><circle cx="319.10" cy="639.12" r="1.15" fill="#d01232" stroke="#7a0a1c" stroke-width="0.28"/><circle cx="322.50" cy="637.99" r="1.15" fill="#d01232" stroke="#7a0a1c" stroke-width="0.28"/><circle cx="325.90" cy="637.99" r="1.15" fill="#d01232" stroke="#7a0a1c" stroke-width="0.28"/><circle cx="329.30" cy="639.12" r="1.15" fill="#d01232" stroke="#7a0a1c" stroke-width="0.28"/><circle cx="317.40" cy="636.85" r="1.15" fill="#d01232" stroke="#7a0a1c" stroke-width="0.28"/><circle cx="320.80" cy="635.71" r="1.15" fill="#d01232" stroke="#7a0a1c" stroke-width="0.28"/><circle cx="324.20" cy="636.85" r="1.15" fill="#d01232" stroke="#7a0a1c" stroke-width="0.28"/><circle cx="327.60" cy="635.71" r="1.15" fill="#d01232" stroke="#7a0a1c" stroke-width="0.28"/><circle cx="331.00" cy="635.71" r="1.15" fill="#d01232" stroke="#7a0a1c" stroke-width="0.28"/><circle cx="315.70" cy="634.57" r="1.15" fill="#d01232" stroke="#7a0a1c" stroke-width="0.28"/><circle cx="319.10" cy="633.43" r="1.15" fill="#d01232" stroke="#7a0a1c" stroke-width="0.28"/><circle cx="322.50" cy="634.57" r="1.15" fill="#d01232" stroke="#7a0a1c" stroke-width="0.28"/><circle cx="325.90" cy="633.43" r="1.15" fill="#d01232" stroke="#7a0a1c" stroke-width="0.28"/><circle cx="329.30" cy="633.43" r="1.15" fill="#d01232" stroke="#7a0a1c" stroke-width="0.28"/><circle cx="332.70" cy="634.57" r="1.15" fill="#d01232" stroke="#7a0a1c" stroke-width="0.28"/><circle cx="314.70" cy="632.30" r="1.15" fill="#d01232" stroke="#7a0a1c" stroke-width="0.28"/><circle cx="317.87" cy="631.16" r="1.15" fill="#d01232" stroke="#7a0a1c" stroke-width="0.28"/><circle cx="321.03" cy="632.30" r="1.15" fill="#d01232" stroke="#7a0a1c" stroke-width="0.28"/><circle cx="324.20" cy="631.16" r="1.15" fill="#d01232" stroke="#7a0a1c" stroke-width="0.28"/><circle cx="327.37" cy="631.16" r="1.15" fill="#d01232" stroke="#7a0a1c" stroke-width="0.28"/><circle cx="330.53" cy="632.30" r="1.15" fill="#d01232" stroke="#7a0a1c" stroke-width="0.28"/><circle cx="333.70" cy="631.16" r="1.15" fill="#d01232" stroke="#7a0a1c" stroke-width="0.28"/><circle cx="314.70" cy="630.02" r="1.15" fill="#d01232" stroke="#7a0a1c" stroke-width="0.28"/><circle cx="317.87" cy="628.88" r="1.15" fill="#d01232" stroke="#7a0a1c" stroke-width="0.28"/><circle cx="321.03" cy="630.02" r="1.15" fill="#d01232" stroke="#7a0a1c" stroke-width="0.28"/><circle cx="324.20" cy="628.88" r="1.15" fill="#d01232" stroke="#7a0a1c" stroke-width="0.28"/><circle cx="327.37" cy="630.02" r="1.15" fill="#d01232" stroke="#7a0a1c" stroke-width="0.28"/><circle cx="330.53" cy="628.88" r="1.15" fill="#d01232" stroke="#7a0a1c" stroke-width="0.28"/><circle cx="333.70" cy="630.02" r="1.15" fill="#d01232" stroke="#7a0a1c" stroke-width="0.28"/><circle cx="315.70" cy="627.74" r="1.15" fill="#d01232" stroke="#7a0a1c" stroke-width="0.28"/><circle cx="319.10" cy="626.61" r="1.15" fill="#d01232" stroke="#7a0a1c" stroke-width="0.28"/><circle cx="322.50" cy="627.74" r="1.15" fill="#d01232" stroke="#7a0a1c" stroke-width="0.28"/><circle cx="325.90" cy="626.61" r="1.15" fill="#d01232" stroke="#7a0a1c" stroke-width="0.28"/><circle cx="329.30" cy="626.61" r="1.15" fill="#d01232" stroke="#7a0a1c" stroke-width="0.28"/><circle cx="332.70" cy="627.74" r="1.15" fill="#d01232" stroke="#7a0a1c" stroke-width="0.28"/><circle cx="317.40" cy="625.47" r="1.15" fill="#d01232" stroke="#7a0a1c" stroke-width="0.28"/><circle cx="320.80" cy="624.33" r="1.15" fill="#d01232" stroke="#7a0a1c" stroke-width="0.28"/><circle cx="324.20" cy="625.47" r="1.15" fill="#d01232" stroke="#7a0a1c" stroke-width="0.28"/><circle cx="327.60" cy="624.33" r="1.15" fill="#d01232" stroke="#7a0a1c" stroke-width="0.28"/><circle cx="331.00" cy="624.33" r="1.15" fill="#d01232" stroke="#7a0a1c" stroke-width="0.28"/><circle cx="317.40" cy="623.19" r="1.15" fill="#d01232" stroke="#7a0a1c" stroke-width="0.28"/><circle cx="320.80" cy="622.05" r="1.15" fill="#d01232" stroke="#7a0a1c" stroke-width="0.28"/><circle cx="324.20" cy="623.19" r="1.15" fill="#d01232" stroke="#7a0a1c" stroke-width="0.28"/><circle cx="327.60" cy="622.05" r="1.15" fill="#d01232" stroke="#7a0a1c" stroke-width="0.28"/><circle cx="331.00" cy="623.19" r="1.15" fill="#d01232" stroke="#7a0a1c" stroke-width="0.28"/><circle cx="319.10" cy="620.92" r="1.15" fill="#d01232" stroke="#7a0a1c" stroke-width="0.28"/><circle cx="322.50" cy="619.78" r="1.15" fill="#d01232" stroke="#7a0a1c" stroke-width="0.28"/><circle cx="325.90" cy="620.92" r="1.15" fill="#d01232" stroke="#7a0a1c" stroke-width="0.28"/><circle cx="329.30" cy="619.78" r="1.15" fill="#d01232" stroke="#7a0a1c" stroke-width="0.28"/><circle cx="319.10" cy="618.64" r="1.15" fill="#d01232" stroke="#7a0a1c" stroke-width="0.28"/><circle cx="322.50" cy="617.50" r="1.15" fill="#d01232" stroke="#7a0a1c" stroke-width="0.28"/><circle cx="325.90" cy="618.64" r="1.15" fill="#d01232" stroke="#7a0a1c" stroke-width="0.28"/><circle cx="329.30" cy="617.50" r="1.15" fill="#d01232" stroke="#7a0a1c" stroke-width="0.28"/><circle cx="319.10" cy="616.36" r="1.15" fill="#d01232" stroke="#7a0a1c" stroke-width="0.28"/><circle cx="322.50" cy="615.23" r="1.15" fill="#d01232" stroke="#7a0a1c" stroke-width="0.28"/><circle cx="325.90" cy="616.36" r="1.15" fill="#d01232" stroke="#7a0a1c" stroke-width="0.28"/><circle cx="329.30" cy="615.23" r="1.15" fill="#d01232" stroke="#7a0a1c" stroke-width="0.28"/><circle cx="317.40" cy="614.09" r="1.15" fill="#d01232" stroke="#7a0a1c" stroke-width="0.28"/><circle cx="320.80" cy="612.95" r="1.15" fill="#d01232" stroke="#7a0a1c" stroke-width="0.28"/><circle cx="324.20" cy="614.09" r="1.15" fill="#d01232" stroke="#7a0a1c" stroke-width="0.28"/><circle cx="327.60" cy="612.95" r="1.15" fill="#d01232" stroke="#7a0a1c" stroke-width="0.28"/><circle cx="331.00" cy="612.95" r="1.15" fill="#d01232" stroke="#7a0a1c" stroke-width="0.28"/><circle cx="322.50" cy="607.26" r="1.15" fill="#d01232" stroke="#7a0a1c" stroke-width="0.28"/><circle cx="325.90" cy="605.55" r="1.15" fill="#d01232" stroke="#7a0a1c" stroke-width="0.28"/><circle cx="324.20" cy="602.71" r="1.15" fill="#d01232" stroke="#7a0a1c" stroke-width="0.28"/><circle cx="324.20" cy="595.88" r="1.15" fill="#d01232" stroke="#7a0a1c" stroke-width="0.28"/><circle cx="324.20" cy="542.39" r="1.15" fill="#d01232" stroke="#7a0a1c" stroke-width="0.28"/><circle cx="355.90" cy="619.80" r="1.15" fill="#d01232" stroke="#7a0a1c" stroke-width="0.28"/><circle cx="353.80" cy="624.60" r="1.15" fill="#d01232" stroke="#7a0a1c" stroke-width="0.28"/><circle cx="357.70" cy="624.60" r="1.15" fill="#d01232" stroke="#7a0a1c" stroke-width="0.28"/><circle cx="353.80" cy="627.80" r="1.15" fill="#d01232" stroke="#7a0a1c" stroke-width="0.28"/><circle cx="357.50" cy="630.00" r="1.15" fill="#d01232" stroke="#7a0a1c" stroke-width="0.28"/><circle cx="361.20" cy="629.10" r="1.15" fill="#d01232" stroke="#7a0a1c" stroke-width="0.28"/><circle cx="353.70" cy="631.20" r="1.15" fill="#d01232" stroke="#7a0a1c" stroke-width="0.28"/><circle cx="353.70" cy="634.60" r="1.15" fill="#d01232" stroke="#7a0a1c" stroke-width="0.28"/><circle cx="357.50" cy="635.80" r="1.15" fill="#d01232" stroke="#7a0a1c" stroke-width="0.28"/><circle cx="346.20" cy="636.80" r="1.15" fill="#d01232" stroke="#7a0a1c" stroke-width="0.28"/><circle cx="349.80" cy="636.80" r="1.15" fill="#d01232" stroke="#7a0a1c" stroke-width="0.28"/><circle cx="364.90" cy="636.80" r="1.15" fill="#d01232" stroke="#7a0a1c" stroke-width="0.28"/><circle cx="353.80" cy="638.90" r="1.15" fill="#d01232" stroke="#7a0a1c" stroke-width="0.28"/><circle cx="357.50" cy="638.90" r="1.15" fill="#d01232" stroke="#7a0a1c" stroke-width="0.28"/><circle cx="361.20" cy="638.90" r="1.15" fill="#d01232" stroke="#7a0a1c" stroke-width="0.28"/><circle cx="349.80" cy="640.20" r="1.15" fill="#d01232" stroke="#7a0a1c" stroke-width="0.28"/><line x1="282.5" y1="633.434" x2="302.7" y2="633.434" stroke="#222" stroke-width="0.8"/><line x1="314.2" y1="626.037" x2="334.4" y2="626.037" stroke="#222" stroke-width="0.8"/><line x1="345.6" y1="635.141" x2="365.6" y2="635.141" stroke="#222" stroke-width="0.8"/><text x="374" y="483.8" font-size="11.0" text-anchor="start" font-weight="bold" fill="#111" stroke="#111" stroke-width="0.35" >F</text><text x="457.5" y="496.2" font-size="7.3" text-anchor="middle" font-weight="normal" fill="#333" stroke="#333" stroke-width="0.1" textLength="107" lengthAdjust="spacingAndGlyphs"># of ≥ Grade 3 Non-cytopenia</text><text x="457.9" y="503.5" font-size="7.3" text-anchor="middle" font-weight="normal" fill="#333" stroke="#333" stroke-width="0.1" textLength="56" lengthAdjust="spacingAndGlyphs">AEs per patient</text><line x1="410.2" y1="525.3000000000001" x2="410.2" y2="641.4" stroke="#111" stroke-width="1.1"/><line x1="407.59999999999997" y1="641.4" x2="410.2" y2="641.4" stroke="#111" stroke-width="0.9"/><text x="404.2" y="643.9" font-size="6.4" text-anchor="end" font-weight="normal" fill="#4a4a4a" stroke="#4a4a4a" stroke-width="0.04" >0</text><line x1="408.9" y1="637.54" x2="410.2" y2="637.54" stroke="#111" stroke-width="0.6"/><line x1="408.9" y1="633.68" x2="410.2" y2="633.68" stroke="#111" stroke-width="0.6"/><line x1="408.9" y1="629.8199999999999" x2="410.2" y2="629.8199999999999" stroke="#111" stroke-width="0.6"/><line x1="408.9" y1="625.96" x2="410.2" y2="625.96" stroke="#111" stroke-width="0.6"/><line x1="408.9" y1="622.1" x2="410.2" y2="622.1" stroke="#111" stroke-width="0.6"/><line x1="408.9" y1="618.24" x2="410.2" y2="618.24" stroke="#111" stroke-width="0.6"/><line x1="408.9" y1="614.38" x2="410.2" y2="614.38" stroke="#111" stroke-width="0.6"/><line x1="408.9" y1="610.52" x2="410.2" y2="610.52" stroke="#111" stroke-width="0.6"/><line x1="408.9" y1="606.66" x2="410.2" y2="606.66" stroke="#111" stroke-width="0.6"/><line x1="407.59999999999997" y1="602.8" x2="410.2" y2="602.8" stroke="#111" stroke-width="0.9"/><text x="404.2" y="605.3" font-size="6.4" text-anchor="end" font-weight="normal" fill="#4a4a4a" stroke="#4a4a4a" stroke-width="0.04" >20</text><line x1="408.9" y1="598.9399999999999" x2="410.2" y2="598.9399999999999" stroke="#111" stroke-width="0.6"/><line x1="408.9" y1="595.08" x2="410.2" y2="595.08" stroke="#111" stroke-width="0.6"/><line x1="408.9" y1="591.22" x2="410.2" y2="591.22" stroke="#111" stroke-width="0.6"/><line x1="408.9" y1="587.36" x2="410.2" y2="587.36" stroke="#111" stroke-width="0.6"/><line x1="408.9" y1="583.5" x2="410.2" y2="583.5" stroke="#111" stroke-width="0.6"/><line x1="408.9" y1="579.64" x2="410.2" y2="579.64" stroke="#111" stroke-width="0.6"/><line x1="408.9" y1="575.78" x2="410.2" y2="575.78" stroke="#111" stroke-width="0.6"/><line x1="408.9" y1="571.92" x2="410.2" y2="571.92" stroke="#111" stroke-width="0.6"/><line x1="408.9" y1="568.06" x2="410.2" y2="568.06" stroke="#111" stroke-width="0.6"/><line x1="407.59999999999997" y1="564.2" x2="410.2" y2="564.2" stroke="#111" stroke-width="0.9"/><text x="404.2" y="566.7" font-size="6.4" text-anchor="end" font-weight="normal" fill="#4a4a4a" stroke="#4a4a4a" stroke-width="0.04" >40</text><line x1="408.9" y1="560.34" x2="410.2" y2="560.34" stroke="#111" stroke-width="0.6"/><line x1="408.9" y1="556.48" x2="410.2" y2="556.48" stroke="#111" stroke-width="0.6"/><line x1="408.9" y1="552.62" x2="410.2" y2="552.62" stroke="#111" stroke-width="0.6"/><line x1="408.9" y1="548.76" x2="410.2" y2="548.76" stroke="#111" stroke-width="0.6"/><line x1="408.9" y1="544.9" x2="410.2" y2="544.9" stroke="#111" stroke-width="0.6"/><line x1="408.9" y1="541.04" x2="410.2" y2="541.04" stroke="#111" stroke-width="0.6"/><line x1="408.9" y1="537.1800000000001" x2="410.2" y2="537.1800000000001" stroke="#111" stroke-width="0.6"/><line x1="408.9" y1="533.32" x2="410.2" y2="533.32" stroke="#111" stroke-width="0.6"/><line x1="408.9" y1="529.46" x2="410.2" y2="529.46" stroke="#111" stroke-width="0.6"/><line x1="407.59999999999997" y1="525.6" x2="410.2" y2="525.6" stroke="#111" stroke-width="0.9"/><text x="404.2" y="528.1" font-size="6.4" text-anchor="end" font-weight="normal" fill="#4a4a4a" stroke="#4a4a4a" stroke-width="0.04" >60</text><line x1="410.2" y1="641.4" x2="505.4" y2="641.4" stroke="#111" stroke-width="1.1"/><line x1="430.2" y1="641.4" x2="430.2" y2="643.8" stroke="#111" stroke-width="0.8"/><line x1="460.5" y1="641.4" x2="460.5" y2="643.8" stroke="#111" stroke-width="0.8"/><line x1="490.8" y1="641.4" x2="490.8" y2="643.8" stroke="#111" stroke-width="0.8"/><text x="431.0" y="653.4" font-size="6.4" text-anchor="middle" font-weight="normal" fill="#333" stroke="#333" stroke-width="0.1" textLength="17.3" lengthAdjust="spacingAndGlyphs">CD19</text><text x="461.3" y="653.4" font-size="6.4" text-anchor="middle" font-weight="normal" fill="#333" stroke="#333" stroke-width="0.1" textLength="16.8" lengthAdjust="spacingAndGlyphs">CD22</text><text x="491.6" y="653.4" font-size="6.4" text-anchor="middle" font-weight="normal" fill="#333" stroke="#333" stroke-width="0.1" textLength="24.2" lengthAdjust="spacingAndGlyphs">CD1922</text><text x="461.3" y="664.8" font-size="8.2" text-anchor="middle" font-weight="normal" fill="#333" stroke="#333" stroke-width="0.1" textLength="10.3" lengthAdjust="spacingAndGlyphs">Trial</text><text x="0" y="0" font-size="8.2" fill="#2a2a2a" stroke="#2a2a2a" stroke-width="0.12" text-anchor="middle" transform="translate(392.8,581.7) rotate(-90)" textLength="66.5" lengthAdjust="spacingAndGlyphs">≥Gr3 NC AEs per patient</text><text x="460.2" y="516.3" font-size="6.3" text-anchor="middle" font-weight="normal" fill="#444" stroke="#444" stroke-width="0.1" ><tspan font-style="italic">P</tspan> = .22</text><line x1="428.7" y1="519.3" x2="492.3" y2="519.3" stroke="#666" stroke-width="0.8"/><line x1="428.7" y1="518.0999999999999" x2="428.7" y2="520.5" stroke="#666" stroke-width="0.7"/><line x1="492.3" y1="518.0999999999999" x2="492.3" y2="520.5" stroke="#666" stroke-width="0.7"/><text x="445" y="530.9" font-size="6.3" text-anchor="middle" font-weight="normal" fill="#444" stroke="#444" stroke-width="0.1" ><tspan font-style="italic">P</tspan> = .0010</text><text x="476.6" y="530.9" font-size="6.3" text-anchor="middle" font-weight="normal" fill="#444" stroke="#444" stroke-width="0.1" ><tspan font-style="italic">P</tspan> = .0002</text><line x1="428.7" y1="533.9" x2="492.3" y2="533.9" stroke="#666" stroke-width="0.8"/><line x1="428.7" y1="532.6999999999999" x2="428.7" y2="535.1" stroke="#666" stroke-width="0.7"/><line x1="460.8" y1="532.6999999999999" x2="460.8" y2="535.1" stroke="#666" stroke-width="0.7"/><line x1="492.3" y1="532.6999999999999" x2="492.3" y2="535.1" stroke="#666" stroke-width="0.7"/><text x="493" y="579.5" font-size="6.3" text-anchor="middle" font-weight="normal" fill="#444" stroke="#444" stroke-width="0.1" ><tspan font-style="italic">P</tspan> &lt; .0001</text><circle cx="421.85" cy="640.60" r="1.15" fill="#d01232" stroke="#6a0016" stroke-width="0.3"/><circle cx="422.88" cy="640.60" r="1.15" fill="#d01232" stroke="#6a0016" stroke-width="0.3"/><circle cx="423.91" cy="640.60" r="1.15" fill="#d01232" stroke="#6a0016" stroke-width="0.3"/><circle cx="424.94" cy="640.60" r="1.15" fill="#d01232" stroke="#6a0016" stroke-width="0.3"/><circle cx="425.97" cy="640.60" r="1.15" fill="#d01232" stroke="#6a0016" stroke-width="0.3"/><circle cx="427.00" cy="640.60" r="1.15" fill="#d01232" stroke="#6a0016" stroke-width="0.3"/><circle cx="428.03" cy="640.60" r="1.15" fill="#d01232" stroke="#6a0016" stroke-width="0.3"/><circle cx="429.06" cy="640.60" r="1.15" fill="#d01232" stroke="#6a0016" stroke-width="0.3"/><circle cx="430.09" cy="640.60" r="1.15" fill="#d01232" stroke="#6a0016" stroke-width="0.3"/><circle cx="431.11" cy="640.60" r="1.15" fill="#d01232" stroke="#6a0016" stroke-width="0.3"/><circle cx="432.14" cy="640.60" r="1.15" fill="#d01232" stroke="#6a0016" stroke-width="0.3"/><circle cx="433.17" cy="640.60" r="1.15" fill="#d01232" stroke="#6a0016" stroke-width="0.3"/><circle cx="434.20" cy="640.60" r="1.15" fill="#d01232" stroke="#6a0016" stroke-width="0.3"/><circle cx="435.23" cy="640.60" r="1.15" fill="#d01232" stroke="#6a0016" stroke-width="0.3"/><circle cx="436.26" cy="640.60" r="1.15" fill="#d01232" stroke="#6a0016" stroke-width="0.3"/><circle cx="437.29" cy="640.60" r="1.15" fill="#d01232" stroke="#6a0016" stroke-width="0.3"/><circle cx="438.32" cy="640.60" r="1.15" fill="#d01232" stroke="#6a0016" stroke-width="0.3"/><circle cx="439.35" cy="640.60" r="1.15" fill="#d01232" stroke="#6a0016" stroke-width="0.3"/><circle cx="426.60" cy="638.67" r="1.15" fill="#d01232" stroke="#6a0016" stroke-width="0.3"/><circle cx="428.60" cy="638.67" r="1.15" fill="#d01232" stroke="#6a0016" stroke-width="0.3"/><circle cx="430.60" cy="638.67" r="1.15" fill="#d01232" stroke="#6a0016" stroke-width="0.3"/><circle cx="432.60" cy="638.67" r="1.15" fill="#d01232" stroke="#6a0016" stroke-width="0.3"/><circle cx="434.60" cy="638.67" r="1.15" fill="#d01232" stroke="#6a0016" stroke-width="0.3"/><circle cx="427.60" cy="636.74" r="1.15" fill="#d01232" stroke="#6a0016" stroke-width="0.3"/><circle cx="429.60" cy="636.74" r="1.15" fill="#d01232" stroke="#6a0016" stroke-width="0.3"/><circle cx="431.60" cy="636.74" r="1.15" fill="#d01232" stroke="#6a0016" stroke-width="0.3"/><circle cx="433.60" cy="636.74" r="1.15" fill="#d01232" stroke="#6a0016" stroke-width="0.3"/><circle cx="427.60" cy="634.81" r="1.15" fill="#d01232" stroke="#6a0016" stroke-width="0.3"/><circle cx="429.60" cy="634.81" r="1.15" fill="#d01232" stroke="#6a0016" stroke-width="0.3"/><circle cx="431.60" cy="634.81" r="1.15" fill="#d01232" stroke="#6a0016" stroke-width="0.3"/><circle cx="433.60" cy="634.81" r="1.15" fill="#d01232" stroke="#6a0016" stroke-width="0.3"/><circle cx="427.60" cy="632.88" r="1.15" fill="#d01232" stroke="#6a0016" stroke-width="0.3"/><circle cx="429.60" cy="632.88" r="1.15" fill="#d01232" stroke="#6a0016" stroke-width="0.3"/><circle cx="431.60" cy="632.88" r="1.15" fill="#d01232" stroke="#6a0016" stroke-width="0.3"/><circle cx="433.60" cy="632.88" r="1.15" fill="#d01232" stroke="#6a0016" stroke-width="0.3"/><circle cx="428.60" cy="630.95" r="1.15" fill="#d01232" stroke="#6a0016" stroke-width="0.3"/><circle cx="430.60" cy="630.95" r="1.15" fill="#d01232" stroke="#6a0016" stroke-width="0.3"/><circle cx="432.60" cy="630.95" r="1.15" fill="#d01232" stroke="#6a0016" stroke-width="0.3"/><circle cx="428.60" cy="629.02" r="1.15" fill="#d01232" stroke="#6a0016" stroke-width="0.3"/><circle cx="430.60" cy="629.02" r="1.15" fill="#d01232" stroke="#6a0016" stroke-width="0.3"/><circle cx="432.60" cy="629.02" r="1.15" fill="#d01232" stroke="#6a0016" stroke-width="0.3"/><circle cx="429.60" cy="627.09" r="1.15" fill="#d01232" stroke="#6a0016" stroke-width="0.3"/><circle cx="431.60" cy="627.09" r="1.15" fill="#d01232" stroke="#6a0016" stroke-width="0.3"/><circle cx="429.60" cy="625.16" r="1.15" fill="#d01232" stroke="#6a0016" stroke-width="0.3"/><circle cx="431.60" cy="625.16" r="1.15" fill="#d01232" stroke="#6a0016" stroke-width="0.3"/><circle cx="430.60" cy="623.23" r="1.15" fill="#d01232" stroke="#6a0016" stroke-width="0.3"/><circle cx="430.60" cy="621.30" r="1.15" fill="#d01232" stroke="#6a0016" stroke-width="0.3"/><circle cx="430.60" cy="617.44" r="1.15" fill="#d01232" stroke="#6a0016" stroke-width="0.3"/><circle cx="430.60" cy="613.58" r="1.15" fill="#d01232" stroke="#6a0016" stroke-width="0.3"/><circle cx="430.60" cy="588.49" r="1.15" fill="#d01232" stroke="#6a0016" stroke-width="0.3"/><circle cx="452.05" cy="640.60" r="1.15" fill="#d01232" stroke="#6a0016" stroke-width="0.3"/><circle cx="453.99" cy="640.60" r="1.15" fill="#d01232" stroke="#6a0016" stroke-width="0.3"/><circle cx="455.94" cy="640.60" r="1.15" fill="#d01232" stroke="#6a0016" stroke-width="0.3"/><circle cx="457.88" cy="640.60" r="1.15" fill="#d01232" stroke="#6a0016" stroke-width="0.3"/><circle cx="459.83" cy="640.60" r="1.15" fill="#d01232" stroke="#6a0016" stroke-width="0.3"/><circle cx="461.77" cy="640.60" r="1.15" fill="#d01232" stroke="#6a0016" stroke-width="0.3"/><circle cx="463.72" cy="640.60" r="1.15" fill="#d01232" stroke="#6a0016" stroke-width="0.3"/><circle cx="465.66" cy="640.60" r="1.15" fill="#d01232" stroke="#6a0016" stroke-width="0.3"/><circle cx="467.61" cy="640.60" r="1.15" fill="#d01232" stroke="#6a0016" stroke-width="0.3"/><circle cx="469.55" cy="640.60" r="1.15" fill="#d01232" stroke="#6a0016" stroke-width="0.3"/><circle cx="453.80" cy="638.67" r="1.15" fill="#d01232" stroke="#6a0016" stroke-width="0.3"/><circle cx="455.80" cy="638.67" r="1.15" fill="#d01232" stroke="#6a0016" stroke-width="0.3"/><circle cx="457.80" cy="638.67" r="1.15" fill="#d01232" stroke="#6a0016" stroke-width="0.3"/><circle cx="459.80" cy="638.67" r="1.15" fill="#d01232" stroke="#6a0016" stroke-width="0.3"/><circle cx="461.80" cy="638.67" r="1.15" fill="#d01232" stroke="#6a0016" stroke-width="0.3"/><circle cx="463.80" cy="638.67" r="1.15" fill="#d01232" stroke="#6a0016" stroke-width="0.3"/><circle cx="465.80" cy="638.67" r="1.15" fill="#d01232" stroke="#6a0016" stroke-width="0.3"/><circle cx="467.80" cy="638.67" r="1.15" fill="#d01232" stroke="#6a0016" stroke-width="0.3"/><circle cx="453.80" cy="636.74" r="1.15" fill="#d01232" stroke="#6a0016" stroke-width="0.3"/><circle cx="455.80" cy="636.74" r="1.15" fill="#d01232" stroke="#6a0016" stroke-width="0.3"/><circle cx="457.80" cy="636.74" r="1.15" fill="#d01232" stroke="#6a0016" stroke-width="0.3"/><circle cx="459.80" cy="636.74" r="1.15" fill="#d01232" stroke="#6a0016" stroke-width="0.3"/><circle cx="461.80" cy="636.74" r="1.15" fill="#d01232" stroke="#6a0016" stroke-width="0.3"/><circle cx="463.80" cy="636.74" r="1.15" fill="#d01232" stroke="#6a0016" stroke-width="0.3"/><circle cx="465.80" cy="636.74" r="1.15" fill="#d01232" stroke="#6a0016" stroke-width="0.3"/><circle cx="467.80" cy="636.74" r="1.15" fill="#d01232" stroke="#6a0016" stroke-width="0.3"/><circle cx="455.80" cy="634.81" r="1.15" fill="#d01232" stroke="#6a0016" stroke-width="0.3"/><circle cx="457.80" cy="634.81" r="1.15" fill="#d01232" stroke="#6a0016" stroke-width="0.3"/><circle cx="459.80" cy="634.81" r="1.15" fill="#d01232" stroke="#6a0016" stroke-width="0.3"/><circle cx="461.80" cy="634.81" r="1.15" fill="#d01232" stroke="#6a0016" stroke-width="0.3"/><circle cx="463.80" cy="634.81" r="1.15" fill="#d01232" stroke="#6a0016" stroke-width="0.3"/><circle cx="465.80" cy="634.81" r="1.15" fill="#d01232" stroke="#6a0016" stroke-width="0.3"/><circle cx="456.80" cy="632.88" r="1.15" fill="#d01232" stroke="#6a0016" stroke-width="0.3"/><circle cx="458.80" cy="632.88" r="1.15" fill="#d01232" stroke="#6a0016" stroke-width="0.3"/><circle cx="460.80" cy="632.88" r="1.15" fill="#d01232" stroke="#6a0016" stroke-width="0.3"/><circle cx="462.80" cy="632.88" r="1.15" fill="#d01232" stroke="#6a0016" stroke-width="0.3"/><circle cx="464.80" cy="632.88" r="1.15" fill="#d01232" stroke="#6a0016" stroke-width="0.3"/><circle cx="456.80" cy="630.95" r="1.15" fill="#d01232" stroke="#6a0016" stroke-width="0.3"/><circle cx="458.80" cy="630.95" r="1.15" fill="#d01232" stroke="#6a0016" stroke-width="0.3"/><circle cx="460.80" cy="630.95" r="1.15" fill="#d01232" stroke="#6a0016" stroke-width="0.3"/><circle cx="462.80" cy="630.95" r="1.15" fill="#d01232" stroke="#6a0016" stroke-width="0.3"/><circle cx="464.80" cy="630.95" r="1.15" fill="#d01232" stroke="#6a0016" stroke-width="0.3"/><circle cx="457.80" cy="629.02" r="1.15" fill="#d01232" stroke="#6a0016" stroke-width="0.3"/><circle cx="459.80" cy="629.02" r="1.15" fill="#d01232" stroke="#6a0016" stroke-width="0.3"/><circle cx="461.80" cy="629.02" r="1.15" fill="#d01232" stroke="#6a0016" stroke-width="0.3"/><circle cx="463.80" cy="629.02" r="1.15" fill="#d01232" stroke="#6a0016" stroke-width="0.3"/><circle cx="457.80" cy="627.09" r="1.15" fill="#d01232" stroke="#6a0016" stroke-width="0.3"/><circle cx="459.80" cy="627.09" r="1.15" fill="#d01232" stroke="#6a0016" stroke-width="0.3"/><circle cx="461.80" cy="627.09" r="1.15" fill="#d01232" stroke="#6a0016" stroke-width="0.3"/><circle cx="463.80" cy="627.09" r="1.15" fill="#d01232" stroke="#6a0016" stroke-width="0.3"/><circle cx="458.80" cy="625.16" r="1.15" fill="#d01232" stroke="#6a0016" stroke-width="0.3"/><circle cx="460.80" cy="625.16" r="1.15" fill="#d01232" stroke="#6a0016" stroke-width="0.3"/><circle cx="462.80" cy="625.16" r="1.15" fill="#d01232" stroke="#6a0016" stroke-width="0.3"/><circle cx="458.80" cy="623.23" r="1.15" fill="#d01232" stroke="#6a0016" stroke-width="0.3"/><circle cx="460.80" cy="623.23" r="1.15" fill="#d01232" stroke="#6a0016" stroke-width="0.3"/><circle cx="462.80" cy="623.23" r="1.15" fill="#d01232" stroke="#6a0016" stroke-width="0.3"/><circle cx="459.80" cy="621.30" r="1.15" fill="#d01232" stroke="#6a0016" stroke-width="0.3"/><circle cx="461.80" cy="621.30" r="1.15" fill="#d01232" stroke="#6a0016" stroke-width="0.3"/><circle cx="460.80" cy="619.37" r="1.15" fill="#d01232" stroke="#6a0016" stroke-width="0.3"/><circle cx="460.80" cy="617.44" r="1.15" fill="#d01232" stroke="#6a0016" stroke-width="0.3"/><circle cx="460.80" cy="613.58" r="1.15" fill="#d01232" stroke="#6a0016" stroke-width="0.3"/><circle cx="459.80" cy="607.79" r="1.15" fill="#d01232" stroke="#6a0016" stroke-width="0.3"/><circle cx="461.80" cy="607.79" r="1.15" fill="#d01232" stroke="#6a0016" stroke-width="0.3"/><circle cx="459.80" cy="600.07" r="1.15" fill="#d01232" stroke="#6a0016" stroke-width="0.3"/><circle cx="461.80" cy="600.07" r="1.15" fill="#d01232" stroke="#6a0016" stroke-width="0.3"/><circle cx="460.80" cy="594.28" r="1.15" fill="#d01232" stroke="#6a0016" stroke-width="0.3"/><circle cx="460.80" cy="590.42" r="1.15" fill="#d01232" stroke="#6a0016" stroke-width="0.3"/><circle cx="460.80" cy="538.31" r="1.15" fill="#d01232" stroke="#6a0016" stroke-width="0.3"/><circle cx="482.05" cy="640.60" r="1.15" fill="#d01232" stroke="#6a0016" stroke-width="0.3"/><circle cx="484.55" cy="640.60" r="1.15" fill="#d01232" stroke="#6a0016" stroke-width="0.3"/><circle cx="487.05" cy="640.60" r="1.15" fill="#d01232" stroke="#6a0016" stroke-width="0.3"/><circle cx="489.55" cy="640.60" r="1.15" fill="#d01232" stroke="#6a0016" stroke-width="0.3"/><circle cx="492.05" cy="640.60" r="1.15" fill="#d01232" stroke="#6a0016" stroke-width="0.3"/><circle cx="494.55" cy="640.60" r="1.15" fill="#d01232" stroke="#6a0016" stroke-width="0.3"/><circle cx="497.05" cy="640.60" r="1.15" fill="#d01232" stroke="#6a0016" stroke-width="0.3"/><circle cx="499.55" cy="640.60" r="1.15" fill="#d01232" stroke="#6a0016" stroke-width="0.3"/><circle cx="489.30" cy="638.67" r="1.15" fill="#d01232" stroke="#6a0016" stroke-width="0.3"/><circle cx="492.30" cy="638.67" r="1.15" fill="#d01232" stroke="#6a0016" stroke-width="0.3"/><circle cx="489.30" cy="634.81" r="1.15" fill="#d01232" stroke="#6a0016" stroke-width="0.3"/><circle cx="492.30" cy="634.81" r="1.15" fill="#d01232" stroke="#6a0016" stroke-width="0.3"/><circle cx="489.30" cy="632.88" r="1.15" fill="#d01232" stroke="#6a0016" stroke-width="0.3"/><circle cx="492.30" cy="632.88" r="1.15" fill="#d01232" stroke="#6a0016" stroke-width="0.3"/><circle cx="490.80" cy="630.95" r="1.15" fill="#d01232" stroke="#6a0016" stroke-width="0.3"/><circle cx="490.80" cy="623.23" r="1.15" fill="#d01232" stroke="#6a0016" stroke-width="0.3"/><line x1="421" y1="635.61" x2="440.8" y2="635.61" stroke="#3c6048" stroke-width="0.9"/><line x1="451.3" y1="631.75" x2="470.6" y2="631.75" stroke="#3c6048" stroke-width="0.9"/><line x1="481.2" y1="639.47" x2="500.4" y2="639.47" stroke="#3c6048" stroke-width="0.9"/><rect x="0.5" y="0.5" width="519" height="673" fill="none" stroke="#555" stroke-width="1"/></svg>
</body></html>
